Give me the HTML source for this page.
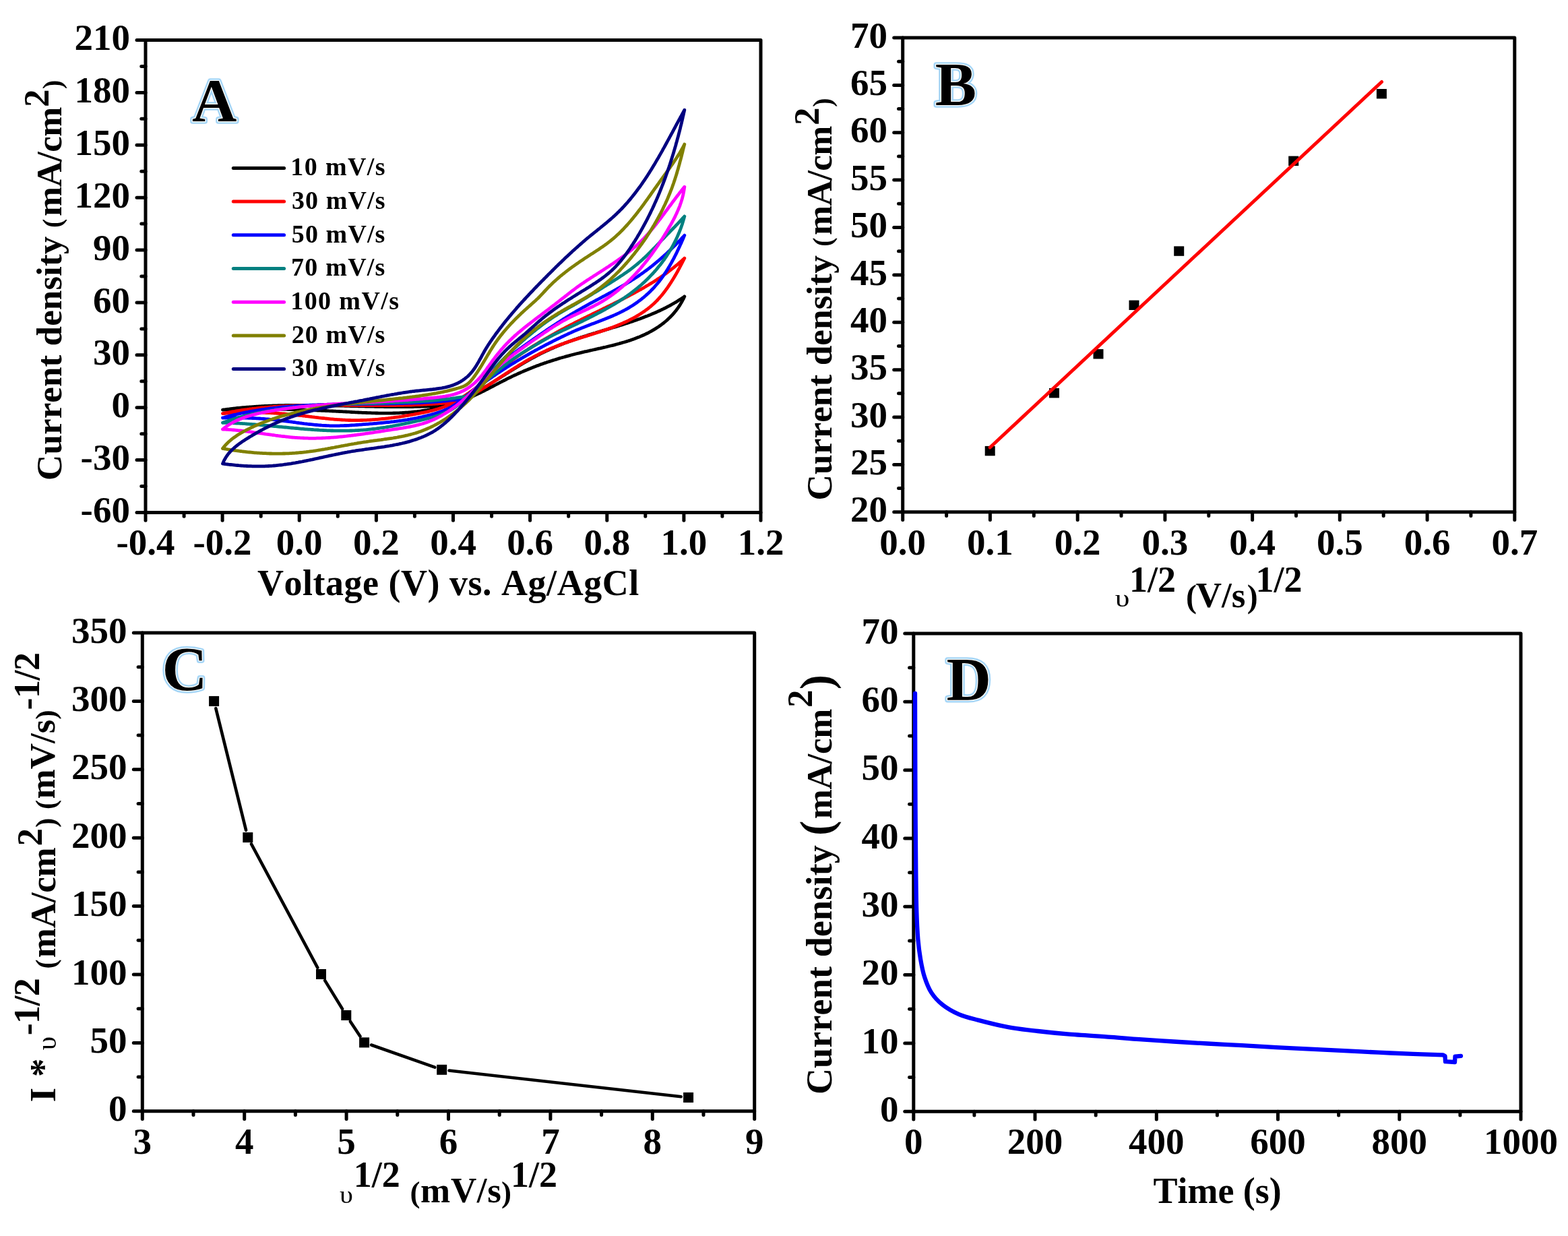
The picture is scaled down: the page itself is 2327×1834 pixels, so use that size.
<!DOCTYPE html>
<html><head><meta charset="utf-8"><title>Figure</title>
<style>html,body{margin:0;padding:0;background:#fff;}svg{display:block;}text{font-kerning:none;}</style></head>
<body><svg width="2327" height="1834" viewBox="0 0 2327 1834">
<rect width="2327" height="1834" fill="#fff"/>
<g stroke="#000" stroke-width="5" stroke-linecap="round" fill="none"><line x1="216.0" y1="760.5" x2="216.0" y2="772.2"/><line x1="273.1" y1="760.5" x2="273.1" y2="766.3"/><line x1="330.1" y1="760.5" x2="330.1" y2="772.2"/><line x1="387.2" y1="760.5" x2="387.2" y2="766.3"/><line x1="444.2" y1="760.5" x2="444.2" y2="772.2"/><line x1="501.3" y1="760.5" x2="501.3" y2="766.3"/><line x1="558.4" y1="760.5" x2="558.4" y2="772.2"/><line x1="615.4" y1="760.5" x2="615.4" y2="766.3"/><line x1="672.5" y1="760.5" x2="672.5" y2="772.2"/><line x1="729.6" y1="760.5" x2="729.6" y2="766.3"/><line x1="786.6" y1="760.5" x2="786.6" y2="772.2"/><line x1="843.7" y1="760.5" x2="843.7" y2="766.3"/><line x1="900.8" y1="760.5" x2="900.8" y2="772.2"/><line x1="957.8" y1="760.5" x2="957.8" y2="766.3"/><line x1="1014.9" y1="760.5" x2="1014.9" y2="772.2"/><line x1="1071.9" y1="760.5" x2="1071.9" y2="766.3"/><line x1="1129.0" y1="760.5" x2="1129.0" y2="772.2"/><line x1="203.0" y1="760.5" x2="216.0" y2="760.5"/><line x1="209.8" y1="721.6" x2="216.0" y2="721.6"/><line x1="203.0" y1="682.6" x2="216.0" y2="682.6"/><line x1="209.8" y1="643.7" x2="216.0" y2="643.7"/><line x1="203.0" y1="604.7" x2="216.0" y2="604.7"/><line x1="209.8" y1="565.8" x2="216.0" y2="565.8"/><line x1="203.0" y1="526.8" x2="216.0" y2="526.8"/><line x1="209.8" y1="487.9" x2="216.0" y2="487.9"/><line x1="203.0" y1="448.9" x2="216.0" y2="448.9"/><line x1="209.8" y1="410.0" x2="216.0" y2="410.0"/><line x1="203.0" y1="371.1" x2="216.0" y2="371.1"/><line x1="209.8" y1="332.1" x2="216.0" y2="332.1"/><line x1="203.0" y1="293.2" x2="216.0" y2="293.2"/><line x1="209.8" y1="254.2" x2="216.0" y2="254.2"/><line x1="203.0" y1="215.3" x2="216.0" y2="215.3"/><line x1="209.8" y1="176.3" x2="216.0" y2="176.3"/><line x1="203.0" y1="137.4" x2="216.0" y2="137.4"/><line x1="209.8" y1="98.4" x2="216.0" y2="98.4"/><line x1="203.0" y1="59.5" x2="216.0" y2="59.5"/><rect x="216.0" y="59.5" width="913.0" height="701.0" stroke-linejoin="round"/></g>
<g font-family="'Liberation Serif', serif" font-weight="bold" font-size="55" fill="#000"><text x="216.0" y="823.0" text-anchor="middle">-0.4</text><text x="330.1" y="823.0" text-anchor="middle">-0.2</text><text x="444.2" y="823.0" text-anchor="middle">0.0</text><text x="558.4" y="823.0" text-anchor="middle">0.2</text><text x="672.5" y="823.0" text-anchor="middle">0.4</text><text x="786.6" y="823.0" text-anchor="middle">0.6</text><text x="900.8" y="823.0" text-anchor="middle">0.8</text><text x="1014.9" y="823.0" text-anchor="middle">1.0</text><text x="1129.0" y="823.0" text-anchor="middle">1.2</text><text x="192.9" y="775.1" text-anchor="end">-60</text><text x="192.9" y="697.2" text-anchor="end">-30</text><text x="192.9" y="619.3" text-anchor="end">0</text><text x="192.9" y="541.4" text-anchor="end">30</text><text x="192.9" y="463.5" text-anchor="end">60</text><text x="192.9" y="385.7" text-anchor="end">90</text><text x="192.9" y="307.8" text-anchor="end">120</text><text x="192.9" y="229.9" text-anchor="end">150</text><text x="192.9" y="152.0" text-anchor="end">180</text><text x="192.9" y="74.1" text-anchor="end">210</text></g>
<g stroke="#000" stroke-width="5" stroke-linecap="round" fill="none"><line x1="1339.7" y1="759.8" x2="1339.7" y2="771.5"/><line x1="1404.6" y1="759.8" x2="1404.6" y2="765.6"/><line x1="1469.4" y1="759.8" x2="1469.4" y2="771.5"/><line x1="1534.3" y1="759.8" x2="1534.3" y2="765.6"/><line x1="1599.2" y1="759.8" x2="1599.2" y2="771.5"/><line x1="1664.0" y1="759.8" x2="1664.0" y2="765.6"/><line x1="1728.9" y1="759.8" x2="1728.9" y2="771.5"/><line x1="1793.8" y1="759.8" x2="1793.8" y2="765.6"/><line x1="1858.6" y1="759.8" x2="1858.6" y2="771.5"/><line x1="1923.5" y1="759.8" x2="1923.5" y2="765.6"/><line x1="1988.3" y1="759.8" x2="1988.3" y2="771.5"/><line x1="2053.2" y1="759.8" x2="2053.2" y2="765.6"/><line x1="2118.1" y1="759.8" x2="2118.1" y2="771.5"/><line x1="2182.9" y1="759.8" x2="2182.9" y2="765.6"/><line x1="2247.8" y1="759.8" x2="2247.8" y2="771.5"/><line x1="1326.7" y1="759.8" x2="1339.7" y2="759.8"/><line x1="1333.5" y1="724.6" x2="1339.7" y2="724.6"/><line x1="1326.7" y1="689.4" x2="1339.7" y2="689.4"/><line x1="1333.5" y1="654.2" x2="1339.7" y2="654.2"/><line x1="1326.7" y1="619.0" x2="1339.7" y2="619.0"/><line x1="1333.5" y1="583.8" x2="1339.7" y2="583.8"/><line x1="1326.7" y1="548.7" x2="1339.7" y2="548.7"/><line x1="1333.5" y1="513.5" x2="1339.7" y2="513.5"/><line x1="1326.7" y1="478.3" x2="1339.7" y2="478.3"/><line x1="1333.5" y1="443.1" x2="1339.7" y2="443.1"/><line x1="1326.7" y1="407.9" x2="1339.7" y2="407.9"/><line x1="1333.5" y1="372.7" x2="1339.7" y2="372.7"/><line x1="1326.7" y1="337.5" x2="1339.7" y2="337.5"/><line x1="1333.5" y1="302.3" x2="1339.7" y2="302.3"/><line x1="1326.7" y1="267.1" x2="1339.7" y2="267.1"/><line x1="1333.5" y1="232.0" x2="1339.7" y2="232.0"/><line x1="1326.7" y1="196.8" x2="1339.7" y2="196.8"/><line x1="1333.5" y1="161.6" x2="1339.7" y2="161.6"/><line x1="1326.7" y1="126.4" x2="1339.7" y2="126.4"/><line x1="1333.5" y1="91.2" x2="1339.7" y2="91.2"/><line x1="1326.7" y1="56.0" x2="1339.7" y2="56.0"/><rect x="1339.7" y="56.0" width="908.1" height="703.8" stroke-linejoin="round"/></g>
<g font-family="'Liberation Serif', serif" font-weight="bold" font-size="55" fill="#000"><text x="1339.7" y="823.0" text-anchor="middle">0.0</text><text x="1469.4" y="823.0" text-anchor="middle">0.1</text><text x="1599.2" y="823.0" text-anchor="middle">0.2</text><text x="1728.9" y="823.0" text-anchor="middle">0.3</text><text x="1858.6" y="823.0" text-anchor="middle">0.4</text><text x="1988.3" y="823.0" text-anchor="middle">0.5</text><text x="2118.1" y="823.0" text-anchor="middle">0.6</text><text x="2247.8" y="823.0" text-anchor="middle">0.7</text><text x="1316.9" y="774.4" text-anchor="end">20</text><text x="1316.9" y="704.0" text-anchor="end">25</text><text x="1316.9" y="633.6" text-anchor="end">30</text><text x="1316.9" y="563.3" text-anchor="end">35</text><text x="1316.9" y="492.9" text-anchor="end">40</text><text x="1316.9" y="422.5" text-anchor="end">45</text><text x="1316.9" y="352.1" text-anchor="end">50</text><text x="1316.9" y="281.7" text-anchor="end">55</text><text x="1316.9" y="211.4" text-anchor="end">60</text><text x="1316.9" y="141.0" text-anchor="end">65</text><text x="1316.9" y="70.6" text-anchor="end">70</text></g>
<g stroke="#000" stroke-width="5" stroke-linecap="round" fill="none"><line x1="211.3" y1="1648.8" x2="211.3" y2="1660.5"/><line x1="287.0" y1="1648.8" x2="287.0" y2="1654.6"/><line x1="362.7" y1="1648.8" x2="362.7" y2="1660.5"/><line x1="438.4" y1="1648.8" x2="438.4" y2="1654.6"/><line x1="514.1" y1="1648.8" x2="514.1" y2="1660.5"/><line x1="589.8" y1="1648.8" x2="589.8" y2="1654.6"/><line x1="665.5" y1="1648.8" x2="665.5" y2="1660.5"/><line x1="741.2" y1="1648.8" x2="741.2" y2="1654.6"/><line x1="816.9" y1="1648.8" x2="816.9" y2="1660.5"/><line x1="892.6" y1="1648.8" x2="892.6" y2="1654.6"/><line x1="968.3" y1="1648.8" x2="968.3" y2="1660.5"/><line x1="1044.0" y1="1648.8" x2="1044.0" y2="1654.6"/><line x1="1119.7" y1="1648.8" x2="1119.7" y2="1660.5"/><line x1="198.3" y1="1648.8" x2="211.3" y2="1648.8"/><line x1="205.1" y1="1598.1" x2="211.3" y2="1598.1"/><line x1="198.3" y1="1547.4" x2="211.3" y2="1547.4"/><line x1="205.1" y1="1496.7" x2="211.3" y2="1496.7"/><line x1="198.3" y1="1446.0" x2="211.3" y2="1446.0"/><line x1="205.1" y1="1395.3" x2="211.3" y2="1395.3"/><line x1="198.3" y1="1344.6" x2="211.3" y2="1344.6"/><line x1="205.1" y1="1293.9" x2="211.3" y2="1293.9"/><line x1="198.3" y1="1243.2" x2="211.3" y2="1243.2"/><line x1="205.1" y1="1192.5" x2="211.3" y2="1192.5"/><line x1="198.3" y1="1141.8" x2="211.3" y2="1141.8"/><line x1="205.1" y1="1091.1" x2="211.3" y2="1091.1"/><line x1="198.3" y1="1040.4" x2="211.3" y2="1040.4"/><line x1="205.1" y1="989.7" x2="211.3" y2="989.7"/><line x1="198.3" y1="939.0" x2="211.3" y2="939.0"/><rect x="211.3" y="939.0" width="908.4" height="709.8" stroke-linejoin="round"/></g>
<g font-family="'Liberation Serif', serif" font-weight="bold" font-size="55" fill="#000"><text x="211.3" y="1712.0" text-anchor="middle">3</text><text x="362.7" y="1712.0" text-anchor="middle">4</text><text x="514.1" y="1712.0" text-anchor="middle">5</text><text x="665.5" y="1712.0" text-anchor="middle">6</text><text x="816.9" y="1712.0" text-anchor="middle">7</text><text x="968.3" y="1712.0" text-anchor="middle">8</text><text x="1119.7" y="1712.0" text-anchor="middle">9</text><text x="188.6" y="1663.4" text-anchor="end">0</text><text x="188.6" y="1562.0" text-anchor="end">50</text><text x="188.6" y="1460.6" text-anchor="end">100</text><text x="188.6" y="1359.2" text-anchor="end">150</text><text x="188.6" y="1257.8" text-anchor="end">200</text><text x="188.6" y="1156.4" text-anchor="end">250</text><text x="188.6" y="1055.0" text-anchor="end">300</text><text x="188.6" y="953.6" text-anchor="end">350</text></g>
<g stroke="#000" stroke-width="5" stroke-linecap="round" fill="none"><line x1="1355.8" y1="1649.3" x2="1355.8" y2="1661.0"/><line x1="1445.9" y1="1649.3" x2="1445.9" y2="1655.1"/><line x1="1536.0" y1="1649.3" x2="1536.0" y2="1661.0"/><line x1="1626.2" y1="1649.3" x2="1626.2" y2="1655.1"/><line x1="1716.3" y1="1649.3" x2="1716.3" y2="1661.0"/><line x1="1806.4" y1="1649.3" x2="1806.4" y2="1655.1"/><line x1="1896.5" y1="1649.3" x2="1896.5" y2="1661.0"/><line x1="1986.6" y1="1649.3" x2="1986.6" y2="1655.1"/><line x1="2076.8" y1="1649.3" x2="2076.8" y2="1661.0"/><line x1="2166.9" y1="1649.3" x2="2166.9" y2="1655.1"/><line x1="2257.0" y1="1649.3" x2="2257.0" y2="1661.0"/><line x1="1342.8" y1="1649.3" x2="1355.8" y2="1649.3"/><line x1="1349.6" y1="1598.6" x2="1355.8" y2="1598.6"/><line x1="1342.8" y1="1548.0" x2="1355.8" y2="1548.0"/><line x1="1349.6" y1="1497.3" x2="1355.8" y2="1497.3"/><line x1="1342.8" y1="1446.6" x2="1355.8" y2="1446.6"/><line x1="1349.6" y1="1396.0" x2="1355.8" y2="1396.0"/><line x1="1342.8" y1="1345.3" x2="1355.8" y2="1345.3"/><line x1="1349.6" y1="1294.7" x2="1355.8" y2="1294.7"/><line x1="1342.8" y1="1244.0" x2="1355.8" y2="1244.0"/><line x1="1349.6" y1="1193.3" x2="1355.8" y2="1193.3"/><line x1="1342.8" y1="1142.7" x2="1355.8" y2="1142.7"/><line x1="1349.6" y1="1092.0" x2="1355.8" y2="1092.0"/><line x1="1342.8" y1="1041.3" x2="1355.8" y2="1041.3"/><line x1="1349.6" y1="990.7" x2="1355.8" y2="990.7"/><line x1="1342.8" y1="940.0" x2="1355.8" y2="940.0"/><rect x="1355.8" y="940.0" width="901.2" height="709.3" stroke-linejoin="round"/></g>
<g font-family="'Liberation Serif', serif" font-weight="bold" font-size="55" fill="#000"><text x="1355.8" y="1712.0" text-anchor="middle">0</text><text x="1536.0" y="1712.0" text-anchor="middle">200</text><text x="1716.3" y="1712.0" text-anchor="middle">400</text><text x="1896.5" y="1712.0" text-anchor="middle">600</text><text x="2076.8" y="1712.0" text-anchor="middle">800</text><text x="2257.0" y="1712.0" text-anchor="middle">1000</text><text x="1333.5" y="1663.9" text-anchor="end">0</text><text x="1333.5" y="1562.6" text-anchor="end">10</text><text x="1333.5" y="1461.2" text-anchor="end">20</text><text x="1333.5" y="1359.9" text-anchor="end">30</text><text x="1333.5" y="1258.6" text-anchor="end">40</text><text x="1333.5" y="1157.3" text-anchor="end">50</text><text x="1333.5" y="1055.9" text-anchor="end">60</text><text x="1333.5" y="954.6" text-anchor="end">70</text></g>
<g fill="none" stroke-width="4.8" stroke-linecap="round" stroke-linejoin="round"><path stroke="#000000" d="M330.5,608.2 L332.5,607.9 L334.5,607.7 L336.5,607.4 L338.5,607.1 L340.5,606.9 L342.5,606.6 L344.6,606.4 L346.6,606.2 L348.6,606.0 L350.6,605.7 L352.6,605.5 L354.6,605.3 L356.6,605.1 L358.6,604.9 L360.6,604.7 L362.7,604.6 L364.7,604.4 L366.7,604.2 L368.7,604.1 L370.7,603.9 L372.7,603.8 L374.7,603.6 L376.7,603.5 L378.8,603.3 L380.8,603.2 L382.8,603.1 L384.8,602.9 L386.8,602.8 L388.8,602.7 L390.8,602.6 L392.9,602.5 L394.9,602.4 L396.9,602.3 L398.9,602.2 L400.9,602.2 L402.9,602.1 L405.0,602.0 L407.0,601.9 L409.0,601.9 L411.0,601.8 L413.0,601.7 L415.1,601.7 L417.1,601.6 L419.1,601.6 L421.1,601.6 L423.1,601.5 L425.1,601.5 L427.2,601.5 L429.2,601.4 L431.2,601.4 L433.2,601.4 L435.2,601.4 L437.3,601.3 L439.3,601.3 L441.3,601.3 L443.3,601.3 L445.3,601.3 L447.4,601.3 L449.4,601.3 L451.4,601.3 L453.4,601.3 L455.4,601.3 L457.5,601.3 L459.5,601.4 L461.5,601.4 L463.5,601.4 L465.6,601.4 L467.6,601.4 L469.6,601.5 L471.6,601.5 L473.6,601.5 L475.7,601.5 L477.7,601.6 L479.7,601.6 L481.7,601.6 L483.7,601.7 L485.8,601.7 L487.8,601.7 L489.8,601.8 L491.8,601.8 L493.9,601.9 L495.9,601.9 L497.9,602.0 L499.9,602.0 L501.9,602.0 L504.0,602.1 L506.0,602.1 L508.0,602.2 L510.0,602.2 L512.1,602.3 L514.1,602.3 L516.1,602.4 L518.1,602.4 L520.2,602.5 L522.2,602.5 L524.2,602.6 L526.2,602.6 L528.2,602.7 L530.3,602.7 L532.3,602.8 L534.3,602.8 L536.3,602.8 L538.4,602.9 L540.4,602.9 L542.4,603.0 L544.4,603.0 L546.4,603.1 L548.5,603.1 L550.5,603.1 L552.5,603.2 L554.5,603.2 L556.6,603.3 L558.6,603.3 L560.6,603.3 L562.6,603.4 L564.6,603.4 L566.7,603.4 L568.7,603.4 L570.7,603.5 L572.7,603.5 L574.7,603.5 L576.8,603.5 L578.8,603.6 L580.8,603.6 L582.8,603.6 L584.8,603.6 L586.9,603.6 L588.9,603.6 L590.9,603.6 L592.9,603.6 L594.9,603.6 L597.0,603.6 L599.0,603.6 L601.0,603.6 L603.0,603.6 L605.0,603.6 L607.1,603.5 L609.1,603.5 L611.1,603.5 L613.1,603.5 L615.1,603.4 L617.2,603.4 L619.2,603.3 L621.2,603.3 L623.2,603.3 L625.2,603.2 L627.2,603.2 L629.3,603.1 L631.3,603.0 L633.3,603.0 L635.3,602.9 L637.3,602.8 L639.3,602.7 L641.3,602.6 L643.4,602.6 L645.4,602.5 L647.4,602.4 L649.4,602.3 L651.4,602.2 L653.4,602.0 L655.4,601.9 L657.5,601.8 L659.5,601.7 L661.5,601.5 L663.5,601.4 M330.5,608.2 L332.5,608.1 L334.5,608.0 L336.5,607.9 L338.6,607.9 L340.6,607.8 L342.6,607.7 L344.6,607.7 L346.6,607.6 L348.6,607.5 L350.7,607.5 L352.7,607.4 L354.7,607.4 L356.7,607.3 L358.7,607.3 L360.7,607.2 L362.7,607.2 L364.8,607.2 L366.8,607.1 L368.8,607.1 L370.8,607.1 L372.8,607.1 L374.8,607.0 L376.8,607.0 L378.8,607.0 L380.9,607.0 L382.9,607.0 L384.9,607.0 L386.9,607.0 L388.9,607.0 L390.9,607.0 L392.9,607.0 L395.0,607.0 L397.0,607.0 L399.0,607.0 L401.0,607.1 L403.0,607.1 L405.0,607.1 L407.0,607.1 L409.0,607.1 L411.0,607.2 L413.1,607.2 L415.1,607.2 L417.1,607.3 L419.1,607.3 L421.1,607.4 L423.1,607.4 L425.1,607.4 L427.1,607.5 L429.2,607.5 L431.2,607.6 L433.2,607.6 L435.2,607.7 L437.2,607.8 L439.2,607.8 L441.2,607.9 L443.2,607.9 L445.2,608.0 L447.3,608.1 L449.3,608.1 L451.3,608.2 L453.3,608.3 L455.3,608.4 L457.3,608.4 L459.3,608.5 L461.3,608.6 L463.3,608.7 L465.4,608.7 L467.4,608.8 L469.4,608.9 L471.4,609.0 L473.4,609.1 L475.4,609.2 L477.4,609.3 L479.4,609.3 L481.5,609.4 L483.5,609.5 L485.5,609.6 L487.5,609.7 L489.5,609.8 L491.5,609.9 L493.5,610.0 L495.5,610.1 L497.6,610.2 L499.6,610.3 L501.6,610.4 L503.6,610.5 L505.6,610.6 L507.6,610.7 L509.6,610.8 L511.6,610.9 L513.7,611.0 L515.7,611.1 L517.7,611.2 L519.7,611.4 L521.7,611.5 L523.7,611.6 L525.7,611.7 L527.8,611.8 L529.8,611.9 L531.8,612.0 L533.8,612.1 L535.8,612.2 L537.8,612.3 L539.8,612.3 L541.8,612.4 L543.9,612.5 L545.9,612.6 L547.9,612.7 L549.9,612.7 L551.9,612.8 L553.9,612.9 L555.9,612.9 L557.9,613.0 L559.9,613.0 L562.0,613.1 L564.0,613.1 L566.0,613.1 L568.0,613.1 L570.0,613.1 L572.0,613.2 L574.0,613.2 L576.0,613.1 L578.0,613.1 L580.0,613.1 L582.0,613.1 L584.0,613.0 L586.0,613.0 L588.0,612.9 L590.0,612.9 L592.0,612.8 L594.0,612.7 L596.0,612.6 L598.0,612.5 L600.0,612.4 L602.0,612.2 L604.0,612.1 L606.0,612.0 L608.0,611.8 L610.0,611.6 L612.0,611.4 L614.0,611.2 L616.0,611.0 L618.0,610.8 L620.0,610.5 L622.0,610.3 L624.0,610.0 L626.0,609.7 L627.9,609.4 L629.9,609.1 L631.9,608.8 L633.9,608.5 L635.9,608.1 L637.9,607.8 L639.8,607.4 L641.8,607.0 L643.8,606.5 L645.8,606.1 L647.7,605.7 L649.7,605.2 L651.7,604.7 L653.7,604.2 L655.6,603.7 L657.6,603.1 L659.6,602.6 L661.5,602.0 L663.5,601.4 M663.5,601.4 L665.4,600.8 L667.4,600.1 L669.3,599.5 L671.2,598.8 L673.1,598.1 L675.0,597.3 L676.8,596.6 L678.7,595.8 L680.6,595.1 L682.4,594.3 L684.3,593.4 L686.1,592.6 L687.9,591.8 L689.7,590.9 L691.5,590.0 L693.3,589.1 L695.1,588.2 L696.9,587.3 L698.7,586.4 L700.5,585.4 L702.3,584.5 L704.0,583.5 L705.8,582.6 L707.5,581.6 L709.3,580.6 L711.0,579.6 L712.8,578.6 L714.5,577.5 L716.2,576.5 L718.0,575.5 L719.7,574.4 L721.4,573.4 L723.1,572.3 L724.8,571.3 L726.6,570.2 L728.3,569.1 L730.0,568.1 L731.7,567.0 L733.4,565.9 L735.1,564.8 L736.8,563.7 L738.5,562.7 L740.2,561.6 L741.9,560.5 L743.6,559.4 L745.3,558.3 L747.1,557.2 L748.8,556.2 L750.5,555.1 L752.2,554.0 L753.9,552.9 L755.6,551.8 L757.3,550.8 L759.0,549.7 L760.7,548.6 L762.5,547.6 L764.2,546.5 L765.9,545.4 L767.6,544.4 L769.3,543.3 L771.1,542.3 L772.8,541.3 L774.5,540.2 L776.3,539.2 L778.0,538.2 L779.7,537.2 L781.5,536.2 L783.2,535.2 L785.0,534.2 L786.7,533.2 L788.5,532.2 L790.3,531.2 L792.0,530.3 L793.8,529.3 L795.6,528.4 L797.4,527.4 L799.1,526.5 L800.9,525.6 L802.7,524.7 L804.5,523.8 L806.3,522.9 L808.1,522.0 L809.9,521.2 L811.8,520.3 L813.6,519.5 L815.4,518.6 L817.2,517.8 L819.1,517.0 L820.9,516.2 L822.8,515.4 L824.6,514.6 L826.5,513.8 L828.3,513.1 L830.2,512.3 L832.1,511.5 L833.9,510.8 L835.8,510.1 L837.7,509.3 L839.6,508.6 L841.5,507.9 L843.3,507.2 L845.2,506.5 L847.1,505.9 L849.0,505.2 L850.9,504.5 L852.8,503.8 L854.8,503.2 L856.7,502.5 L858.6,501.9 L860.5,501.3 L862.4,500.6 L864.3,500.0 L866.3,499.4 L868.2,498.8 L870.1,498.2 L872.0,497.5 L874.0,496.9 L875.9,496.3 L877.8,495.7 L879.8,495.1 L881.7,494.5 L883.6,494.0 L885.6,493.4 L887.5,492.8 L889.5,492.2 L891.4,491.6 L893.3,491.0 L895.3,490.4 L897.2,489.9 L899.2,489.3 L901.1,488.7 L903.0,488.1 L905.0,487.5 L906.9,486.9 L908.9,486.3 L910.8,485.8 L912.7,485.2 L914.7,484.6 L916.6,484.0 L918.5,483.4 L920.5,482.8 L922.4,482.2 L924.3,481.6 L926.3,480.9 L928.2,480.3 L930.1,479.7 L932.0,479.1 L933.9,478.4 L935.9,477.8 L937.8,477.2 L939.7,476.5 L941.6,475.8 L943.5,475.2 L945.4,474.5 L947.3,473.8 L949.2,473.2 L951.1,472.5 L953.0,471.8 L954.9,471.1 L956.7,470.3 L958.6,469.6 L960.5,468.9 L962.4,468.1 L964.2,467.4 L966.1,466.6 L967.9,465.8 L969.8,465.1 L971.6,464.3 L973.5,463.5 L975.3,462.6 L977.1,461.8 L979.0,461.0 L980.8,460.1 L982.6,459.2 L984.4,458.4 L986.2,457.5 L988.0,456.6 L989.8,455.6 L991.6,454.7 L993.3,453.8 L995.1,452.8 L996.9,451.8 L998.6,450.8 L1000.4,449.8 L1002.1,448.8 L1003.9,447.8 L1005.6,446.7 L1007.3,445.6 L1009.0,444.5 L1010.7,443.4 L1012.4,442.3 L1014.1,441.2 L1015.8,440.0 M663.5,601.4 L665.5,600.9 L667.4,600.4 L669.3,599.9 L671.3,599.4 L673.2,598.8 L675.1,598.2 L677.0,597.6 L678.9,597.0 L680.8,596.3 L682.7,595.7 L684.6,595.0 L686.5,594.3 L688.3,593.6 L690.2,592.8 L692.1,592.1 L693.9,591.3 L695.8,590.5 L697.6,589.7 L699.5,588.9 L701.3,588.1 L703.1,587.3 L705.0,586.4 L706.8,585.6 L708.6,584.7 L710.4,583.8 L712.2,583.0 L714.0,582.1 L715.9,581.2 L717.7,580.3 L719.5,579.3 L721.3,578.4 L723.1,577.5 L724.9,576.6 L726.7,575.7 L728.5,574.7 L730.3,573.8 L732.1,572.8 L733.9,571.9 L735.6,571.0 L737.4,570.0 L739.2,569.1 L741.0,568.2 L742.8,567.2 L744.6,566.3 L746.4,565.4 L748.2,564.5 L750.0,563.6 L751.8,562.6 L753.6,561.7 L755.4,560.8 L757.2,560.0 L759.0,559.1 L760.8,558.2 L762.6,557.3 L764.4,556.5 L766.3,555.7 L768.1,554.8 L769.9,554.0 L771.7,553.2 L773.5,552.4 L775.4,551.6 L777.2,550.8 L779.0,550.0 L780.9,549.2 L782.7,548.5 L784.5,547.7 L786.4,547.0 L788.2,546.2 L790.1,545.5 L791.9,544.8 L793.8,544.1 L795.7,543.3 L797.5,542.6 L799.4,542.0 L801.2,541.3 L803.1,540.6 L805.0,539.9 L806.9,539.3 L808.7,538.6 L810.6,538.0 L812.5,537.3 L814.4,536.7 L816.3,536.1 L818.2,535.5 L820.1,534.9 L822.0,534.3 L823.9,533.7 L825.8,533.1 L827.7,532.5 L829.6,531.9 L831.6,531.3 L833.5,530.8 L835.4,530.2 L837.3,529.7 L839.3,529.1 L841.2,528.6 L843.2,528.1 L845.1,527.6 L847.0,527.0 L849.0,526.5 L851.0,526.0 L852.9,525.5 L854.9,525.0 L856.8,524.5 L858.8,524.1 L860.8,523.6 L862.8,523.1 L864.8,522.6 L866.7,522.2 L868.7,521.7 L870.7,521.3 L872.7,520.8 L874.7,520.4 L876.7,519.9 L878.7,519.5 L880.7,519.0 L882.7,518.6 L884.7,518.1 L886.7,517.7 L888.7,517.2 L890.7,516.8 L892.7,516.3 L894.7,515.9 L896.7,515.4 L898.7,515.0 L900.7,514.5 L902.6,514.0 L904.6,513.5 L906.6,513.0 L908.6,512.6 L910.6,512.1 L912.5,511.6 L914.5,511.0 L916.5,510.5 L918.4,510.0 L920.4,509.4 L922.3,508.9 L924.3,508.3 L926.2,507.8 L928.1,507.2 L930.0,506.6 L932.0,506.0 L933.9,505.4 L935.8,504.7 L937.6,504.1 L939.5,503.4 L941.4,502.7 L943.3,502.0 L945.1,501.3 L947.0,500.6 L948.8,499.9 L950.6,499.1 L952.5,498.3 L954.3,497.5 L956.1,496.7 L957.8,495.9 L959.6,495.0 L961.4,494.2 L963.1,493.3 L964.8,492.3 L966.6,491.4 L968.3,490.4 L970.0,489.4 L971.7,488.4 L973.3,487.4 L975.0,486.3 L976.6,485.3 L978.2,484.2 L979.8,483.0 L981.4,481.9 L983.0,480.7 L984.6,479.5 L986.1,478.2 L987.6,477.0 L989.1,475.7 L990.6,474.4 L992.0,473.0 L993.5,471.6 L994.9,470.2 L996.3,468.8 L997.7,467.4 L999.0,465.9 L1000.3,464.4 L1001.6,462.8 L1002.9,461.2 L1004.1,459.6 L1005.3,458.0 L1006.5,456.4 L1007.7,454.7 L1008.8,452.9 L1009.9,451.2 L1010.9,449.4 L1012.0,447.6 L1013.0,445.7 L1014.0,443.9 L1014.9,441.9 L1015.8,440.0"/><path stroke="#ff0000" d="M330.5,613.6 L332.5,613.2 L334.5,612.8 L336.5,612.4 L338.5,612.0 L340.5,611.7 L342.5,611.3 L344.4,610.9 L346.4,610.6 L348.4,610.3 L350.4,609.9 L352.4,609.6 L354.4,609.3 L356.4,609.0 L358.4,608.7 L360.4,608.4 L362.4,608.1 L364.4,607.8 L366.4,607.6 L368.4,607.3 L370.4,607.0 L372.4,606.8 L374.4,606.5 L376.4,606.3 L378.4,606.1 L380.4,605.9 L382.4,605.6 L384.5,605.4 L386.5,605.2 L388.5,605.0 L390.5,604.8 L392.5,604.7 L394.5,604.5 L396.5,604.3 L398.5,604.1 L400.5,604.0 L402.5,603.8 L404.5,603.7 L406.5,603.5 L408.6,603.4 L410.6,603.3 L412.6,603.1 L414.6,603.0 L416.6,602.9 L418.6,602.8 L420.6,602.7 L422.6,602.6 L424.7,602.5 L426.7,602.4 L428.7,602.3 L430.7,602.2 L432.7,602.1 L434.7,602.0 L436.7,602.0 L438.8,601.9 L440.8,601.8 L442.8,601.8 L444.8,601.7 L446.8,601.7 L448.8,601.6 L450.9,601.6 L452.9,601.5 L454.9,601.5 L456.9,601.4 L458.9,601.4 L461.0,601.4 L463.0,601.3 L465.0,601.3 L467.0,601.3 L469.0,601.3 L471.1,601.2 L473.1,601.2 L475.1,601.2 L477.1,601.2 L479.1,601.2 L481.2,601.2 L483.2,601.2 L485.2,601.2 L487.2,601.2 L489.2,601.2 L491.3,601.2 L493.3,601.2 L495.3,601.2 L497.3,601.2 L499.4,601.2 L501.4,601.2 L503.4,601.2 L505.4,601.2 L507.4,601.2 L509.5,601.3 L511.5,601.3 L513.5,601.3 L515.5,601.3 L517.6,601.3 L519.6,601.3 L521.6,601.4 L523.6,601.4 L525.7,601.4 L527.7,601.4 L529.7,601.4 L531.7,601.4 L533.7,601.4 L535.8,601.5 L537.8,601.5 L539.8,601.5 L541.8,601.5 L543.9,601.5 L545.9,601.5 L547.9,601.5 L549.9,601.6 L552.0,601.6 L554.0,601.6 L556.0,601.6 L558.0,601.6 L560.0,601.6 L562.1,601.6 L564.1,601.6 L566.1,601.6 L568.1,601.6 L570.2,601.6 L572.2,601.6 L574.2,601.6 L576.2,601.6 L578.2,601.5 L580.3,601.5 L582.3,601.5 L584.3,601.5 L586.3,601.5 L588.4,601.4 L590.4,601.4 L592.4,601.4 L594.4,601.3 L596.4,601.3 L598.5,601.3 L600.5,601.2 L602.5,601.2 L604.5,601.1 L606.5,601.1 L608.6,601.0 L610.6,601.0 L612.6,600.9 L614.6,600.8 L616.6,600.7 L618.6,600.7 L620.7,600.6 L622.7,600.5 L624.7,600.4 L626.7,600.3 L628.7,600.2 L630.7,600.1 L632.8,600.0 L634.8,599.9 L636.8,599.8 L638.8,599.7 L640.8,599.5 L642.8,599.4 L644.8,599.3 L646.9,599.1 L648.9,599.0 L650.9,598.8 L652.9,598.7 L654.9,598.5 L656.9,598.3 L658.9,598.1 L660.9,598.0 L662.9,597.8 L665.0,597.6 L667.0,597.4 L669.0,597.2 L671.0,596.9 L673.0,596.7 L675.0,596.5 M330.5,613.6 L332.5,613.5 L334.5,613.4 L336.5,613.2 L338.6,613.1 L340.6,613.0 L342.6,612.9 L344.6,612.8 L346.6,612.8 L348.6,612.7 L350.7,612.6 L352.7,612.5 L354.7,612.5 L356.7,612.4 L358.7,612.4 L360.7,612.3 L362.8,612.3 L364.8,612.2 L366.8,612.2 L368.8,612.2 L370.8,612.2 L372.9,612.2 L374.9,612.2 L376.9,612.2 L378.9,612.2 L380.9,612.2 L382.9,612.2 L385.0,612.2 L387.0,612.3 L389.0,612.3 L391.0,612.4 L393.0,612.4 L395.0,612.5 L397.1,612.6 L399.1,612.7 L401.1,612.7 L403.1,612.8 L405.1,612.9 L407.1,613.1 L409.1,613.2 L411.1,613.3 L413.2,613.4 L415.2,613.6 L417.2,613.7 L419.2,613.9 L421.2,614.0 L423.2,614.2 L425.2,614.4 L427.2,614.6 L429.2,614.8 L431.2,615.0 L433.2,615.2 L435.2,615.4 L437.2,615.6 L439.2,615.8 L441.3,616.1 L443.3,616.3 L445.3,616.5 L447.3,616.7 L449.3,617.0 L451.3,617.2 L453.3,617.5 L455.3,617.7 L457.3,617.9 L459.3,618.2 L461.3,618.4 L463.3,618.7 L465.3,618.9 L467.3,619.2 L469.3,619.4 L471.3,619.6 L473.3,619.9 L475.3,620.1 L477.3,620.3 L479.3,620.5 L481.3,620.7 L483.3,621.0 L485.3,621.2 L487.3,621.4 L489.3,621.6 L491.3,621.8 L493.3,621.9 L495.3,622.1 L497.3,622.3 L499.3,622.4 L501.3,622.6 L503.3,622.7 L505.3,622.9 L507.3,623.0 L509.3,623.1 L511.3,623.2 L513.4,623.3 L515.4,623.4 L517.4,623.5 L519.4,623.5 L521.4,623.6 L523.4,623.6 L525.4,623.6 L527.4,623.6 L529.5,623.6 L531.5,623.6 L533.5,623.6 L535.5,623.5 L537.5,623.5 L539.5,623.4 L541.5,623.4 L543.6,623.3 L545.6,623.2 L547.6,623.1 L549.6,623.0 L551.6,622.9 L553.6,622.7 L555.7,622.6 L557.7,622.4 L559.7,622.3 L561.7,622.1 L563.7,621.9 L565.7,621.7 L567.7,621.5 L569.8,621.3 L571.8,621.1 L573.8,620.9 L575.8,620.7 L577.8,620.4 L579.8,620.2 L581.8,619.9 L583.8,619.7 L585.8,619.4 L587.9,619.1 L589.9,618.8 L591.9,618.6 L593.9,618.3 L595.9,618.0 L597.9,617.6 L599.9,617.3 L601.9,617.0 L603.9,616.7 L605.9,616.3 L607.9,616.0 L609.8,615.7 L611.8,615.3 L613.8,615.0 L615.8,614.6 L617.8,614.2 L619.8,613.9 L621.8,613.5 L623.7,613.1 L625.7,612.7 L627.7,612.3 L629.7,611.9 L631.6,611.5 L633.6,611.1 L635.6,610.6 L637.5,610.2 L639.5,609.7 L641.4,609.2 L643.3,608.7 L645.3,608.2 L647.2,607.6 L649.1,607.1 L651.0,606.5 L652.9,605.9 L654.8,605.3 L656.7,604.6 L658.6,603.9 L660.5,603.2 L662.3,602.5 L664.2,601.8 L666.0,601.0 L667.8,600.1 L669.6,599.3 L671.4,598.4 L673.2,597.5 L675.0,596.5 M675.0,596.5 L676.7,595.5 L678.5,594.4 L680.2,593.4 L681.9,592.3 L683.6,591.2 L685.3,590.1 L687.0,589.0 L688.6,587.9 L690.3,586.8 L692.0,585.7 L693.6,584.5 L695.3,583.4 L697.0,582.2 L698.6,581.1 L700.2,579.9 L701.9,578.7 L703.5,577.6 L705.1,576.4 L706.7,575.2 L708.4,574.0 L710.0,572.8 L711.6,571.6 L713.2,570.4 L714.8,569.1 L716.4,567.9 L718.0,566.7 L719.6,565.5 L721.2,564.2 L722.8,563.0 L724.4,561.8 L726.0,560.5 L727.6,559.3 L729.2,558.1 L730.8,556.8 L732.4,555.6 L734.0,554.3 L735.5,553.1 L737.1,551.9 L738.7,550.6 L740.3,549.4 L741.9,548.2 L743.5,546.9 L745.1,545.7 L746.7,544.5 L748.3,543.3 L749.9,542.0 L751.6,540.8 L753.2,539.6 L754.8,538.4 L756.4,537.2 L758.0,536.0 L759.7,534.8 L761.3,533.6 L762.9,532.5 L764.6,531.3 L766.2,530.1 L767.9,529.0 L769.5,527.8 L771.2,526.7 L772.9,525.6 L774.5,524.4 L776.2,523.3 L777.9,522.2 L779.6,521.1 L781.3,520.0 L783.0,518.9 L784.6,517.8 L786.3,516.7 L788.0,515.6 L789.7,514.5 L791.5,513.4 L793.2,512.4 L794.9,511.3 L796.6,510.2 L798.3,509.2 L800.1,508.1 L801.8,507.1 L803.5,506.1 L805.2,505.0 L807.0,504.0 L808.7,503.0 L810.5,502.0 L812.2,501.0 L814.0,500.0 L815.7,499.0 L817.5,498.0 L819.2,497.0 L821.0,496.0 L822.8,495.0 L824.5,494.0 L826.3,493.0 L828.1,492.1 L829.8,491.1 L831.6,490.1 L833.4,489.2 L835.2,488.2 L837.0,487.3 L838.8,486.3 L840.5,485.4 L842.3,484.5 L844.1,483.5 L845.9,482.6 L847.7,481.7 L849.5,480.8 L851.3,479.9 L853.1,478.9 L854.9,478.0 L856.7,477.1 L858.5,476.2 L860.3,475.3 L862.1,474.4 L863.9,473.5 L865.7,472.6 L867.5,471.7 L869.4,470.8 L871.2,469.9 L873.0,469.0 L874.8,468.2 L876.6,467.3 L878.4,466.4 L880.2,465.5 L882.0,464.6 L883.9,463.7 L885.7,462.8 L887.5,461.9 L889.3,461.1 L891.1,460.2 L892.9,459.3 L894.7,458.4 L896.5,457.5 L898.4,456.6 L900.2,455.7 L902.0,454.8 L903.8,454.0 L905.6,453.1 L907.4,452.2 L909.2,451.3 L911.0,450.4 L912.8,449.5 L914.6,448.6 L916.4,447.7 L918.2,446.8 L920.0,445.8 L921.8,444.9 L923.6,444.0 L925.4,443.1 L927.2,442.2 L929.0,441.2 L930.8,440.3 L932.6,439.4 L934.4,438.4 L936.1,437.5 L937.9,436.5 L939.7,435.6 L941.5,434.6 L943.2,433.7 L945.0,432.7 L946.8,431.7 L948.5,430.7 L950.3,429.8 L952.1,428.8 L953.8,427.8 L955.6,426.8 L957.3,425.8 L959.0,424.7 L960.8,423.7 L962.5,422.7 L964.2,421.6 L965.9,420.6 L967.7,419.5 L969.4,418.5 L971.1,417.4 L972.8,416.3 L974.5,415.2 L976.1,414.1 L977.8,413.0 L979.5,411.9 L981.1,410.8 L982.8,409.6 L984.5,408.5 L986.1,407.3 L987.7,406.2 L989.4,405.0 L991.0,403.8 L992.6,402.6 L994.2,401.4 L995.8,400.1 L997.4,398.9 L999.0,397.7 L1000.5,396.4 L1002.1,395.1 L1003.6,393.8 L1005.2,392.6 L1006.7,391.3 L1008.3,389.9 L1009.8,388.6 L1011.3,387.3 L1012.8,385.9 L1014.3,384.6 L1015.8,383.2 M675.0,596.5 L676.9,595.8 L678.8,595.2 L680.7,594.5 L682.6,593.7 L684.5,593.0 L686.3,592.2 L688.2,591.4 L690.0,590.6 L691.9,589.8 L693.7,589.0 L695.5,588.1 L697.3,587.2 L699.1,586.3 L700.9,585.4 L702.6,584.5 L704.4,583.5 L706.2,582.6 L707.9,581.6 L709.7,580.6 L711.4,579.6 L713.2,578.6 L714.9,577.6 L716.6,576.5 L718.4,575.5 L720.1,574.4 L721.8,573.4 L723.5,572.3 L725.2,571.2 L726.9,570.1 L728.6,569.1 L730.3,568.0 L732.0,566.9 L733.7,565.7 L735.4,564.6 L737.1,563.5 L738.8,562.4 L740.4,561.3 L742.1,560.2 L743.8,559.1 L745.5,557.9 L747.2,556.8 L748.9,555.7 L750.6,554.6 L752.2,553.5 L753.9,552.4 L755.6,551.3 L757.3,550.2 L759.0,549.1 L760.7,548.0 L762.4,546.9 L764.1,545.8 L765.9,544.7 L767.6,543.7 L769.3,542.6 L771.0,541.6 L772.7,540.5 L774.5,539.5 L776.2,538.5 L777.9,537.4 L779.7,536.4 L781.4,535.4 L783.2,534.4 L784.9,533.4 L786.7,532.4 L788.4,531.5 L790.2,530.5 L791.9,529.6 L793.7,528.6 L795.5,527.7 L797.3,526.8 L799.1,525.8 L800.8,524.9 L802.6,524.0 L804.4,523.2 L806.2,522.3 L808.1,521.4 L809.9,520.6 L811.7,519.7 L813.5,518.9 L815.3,518.1 L817.2,517.3 L819.0,516.5 L820.8,515.7 L822.7,515.0 L824.5,514.2 L826.4,513.5 L828.3,512.8 L830.1,512.0 L832.0,511.3 L833.9,510.6 L835.8,510.0 L837.6,509.3 L839.5,508.6 L841.4,507.9 L843.3,507.3 L845.2,506.6 L847.1,506.0 L849.0,505.4 L851.0,504.7 L852.9,504.1 L854.8,503.5 L856.7,502.9 L858.7,502.3 L860.6,501.6 L862.5,501.0 L864.5,500.4 L866.4,499.8 L868.4,499.2 L870.3,498.6 L872.2,498.0 L874.2,497.4 L876.1,496.8 L878.1,496.2 L880.0,495.5 L882.0,494.9 L883.9,494.3 L885.9,493.7 L887.8,493.0 L889.8,492.4 L891.7,491.8 L893.6,491.1 L895.6,490.5 L897.5,489.8 L899.4,489.1 L901.4,488.5 L903.3,487.8 L905.2,487.1 L907.1,486.4 L909.0,485.7 L910.9,485.0 L912.8,484.2 L914.7,483.5 L916.5,482.8 L918.4,482.0 L920.3,481.2 L922.1,480.4 L924.0,479.6 L925.8,478.8 L927.6,478.0 L929.4,477.2 L931.3,476.3 L933.1,475.4 L934.8,474.5 L936.6,473.6 L938.4,472.7 L940.1,471.8 L941.9,470.8 L943.6,469.9 L945.3,468.9 L947.0,467.9 L948.7,466.8 L950.4,465.8 L952.0,464.7 L953.7,463.6 L955.3,462.5 L956.9,461.4 L958.5,460.2 L960.1,459.1 L961.7,457.9 L963.2,456.6 L964.8,455.4 L966.3,454.1 L967.8,452.8 L969.3,451.5 L970.7,450.2 L972.2,448.8 L973.6,447.4 L975.0,446.0 L976.4,444.5 L977.7,443.0 L979.1,441.5 L980.4,440.0 L981.7,438.5 L983.0,436.9 L984.3,435.3 L985.5,433.7 L986.8,432.1 L988.0,430.4 L989.2,428.8 L990.4,427.1 L991.6,425.4 L992.7,423.7 L993.9,422.0 L995.0,420.3 L996.1,418.6 L997.2,416.8 L998.3,415.1 L999.4,413.3 L1000.5,411.5 L1001.5,409.8 L1002.5,408.0 L1003.6,406.2 L1004.6,404.4 L1005.6,402.7 L1006.5,400.9 L1007.5,399.1 L1008.5,397.3 L1009.4,395.5 L1010.4,393.7 L1011.3,392.0 L1012.2,390.2 L1013.1,388.4 L1014.0,386.7 L1014.9,384.9 L1015.8,383.2"/><path stroke="#0000ff" d="M330.5,620.0 L332.5,619.5 L334.4,618.9 L336.4,618.4 L338.3,617.9 L340.3,617.4 L342.3,616.9 L344.2,616.4 L346.2,615.9 L348.2,615.4 L350.1,615.0 L352.1,614.5 L354.1,614.1 L356.1,613.7 L358.0,613.2 L360.0,612.8 L362.0,612.4 L364.0,612.0 L365.9,611.6 L367.9,611.3 L369.9,610.9 L371.9,610.5 L373.9,610.2 L375.9,609.8 L377.8,609.5 L379.8,609.2 L381.8,608.8 L383.8,608.5 L385.8,608.2 L387.8,607.9 L389.8,607.6 L391.8,607.3 L393.8,607.0 L395.8,606.8 L397.8,606.5 L399.8,606.2 L401.7,606.0 L403.7,605.8 L405.7,605.5 L407.7,605.3 L409.7,605.1 L411.7,604.8 L413.7,604.6 L415.7,604.4 L417.8,604.2 L419.8,604.0 L421.8,603.8 L423.8,603.6 L425.8,603.5 L427.8,603.3 L429.8,603.1 L431.8,603.0 L433.8,602.8 L435.8,602.7 L437.8,602.5 L439.8,602.4 L441.8,602.2 L443.9,602.1 L445.9,602.0 L447.9,601.8 L449.9,601.7 L451.9,601.6 L453.9,601.5 L455.9,601.4 L458.0,601.3 L460.0,601.2 L462.0,601.1 L464.0,601.0 L466.0,600.9 L468.0,600.8 L470.1,600.8 L472.1,600.7 L474.1,600.6 L476.1,600.5 L478.1,600.5 L480.2,600.4 L482.2,600.3 L484.2,600.3 L486.2,600.2 L488.3,600.2 L490.3,600.1 L492.3,600.1 L494.3,600.0 L496.3,600.0 L498.4,599.9 L500.4,599.9 L502.4,599.9 L504.4,599.8 L506.5,599.8 L508.5,599.8 L510.5,599.7 L512.5,599.7 L514.6,599.7 L516.6,599.7 L518.6,599.6 L520.6,599.6 L522.7,599.6 L524.7,599.6 L526.7,599.5 L528.8,599.5 L530.8,599.5 L532.8,599.5 L534.8,599.5 L536.9,599.4 L538.9,599.4 L540.9,599.4 L542.9,599.4 L545.0,599.4 L547.0,599.3 L549.0,599.3 L551.0,599.3 L553.1,599.3 L555.1,599.3 L557.1,599.2 L559.1,599.2 L561.2,599.2 L563.2,599.2 L565.2,599.1 L567.2,599.1 L569.3,599.1 L571.3,599.0 L573.3,599.0 L575.3,599.0 L577.4,599.0 L579.4,598.9 L581.4,598.9 L583.4,598.8 L585.5,598.8 L587.5,598.8 L589.5,598.7 L591.5,598.7 L593.6,598.6 L595.6,598.6 L597.6,598.5 L599.6,598.4 L601.6,598.4 L603.7,598.3 L605.7,598.2 L607.7,598.2 L609.7,598.1 L611.7,598.0 L613.8,597.9 L615.8,597.9 L617.8,597.8 L619.8,597.7 L621.8,597.6 L623.8,597.5 L625.9,597.4 L627.9,597.3 L629.9,597.2 L631.9,597.1 L633.9,596.9 L635.9,596.8 L637.9,596.7 L639.9,596.6 L642.0,596.4 L644.0,596.3 L646.0,596.1 L648.0,596.0 L650.0,595.8 L652.0,595.7 L654.0,595.5 L656.0,595.3 L658.0,595.1 L660.0,595.0 L662.0,594.8 L664.0,594.6 L666.0,594.4 L668.0,594.2 L670.0,593.9 L672.0,593.7 L674.0,593.5 L676.0,593.3 L678.0,593.0 L680.0,592.8 L682.0,592.5 L684.0,592.3 L686.0,592.0 M330.5,620.0 L332.5,620.0 L334.5,620.0 L336.6,619.9 L338.6,619.9 L340.6,619.9 L342.6,619.9 L344.7,619.9 L346.7,619.9 L348.7,619.9 L350.7,619.9 L352.7,619.9 L354.8,620.0 L356.8,620.0 L358.8,620.0 L360.8,620.1 L362.8,620.1 L364.9,620.2 L366.9,620.2 L368.9,620.3 L370.9,620.3 L372.9,620.4 L374.9,620.5 L377.0,620.6 L379.0,620.7 L381.0,620.8 L383.0,620.9 L385.0,621.0 L387.0,621.2 L389.1,621.3 L391.1,621.4 L393.1,621.6 L395.1,621.8 L397.1,621.9 L399.1,622.1 L401.1,622.3 L403.2,622.5 L405.2,622.7 L407.2,622.9 L409.2,623.1 L411.2,623.4 L413.2,623.6 L415.2,623.9 L417.2,624.1 L419.3,624.4 L421.3,624.6 L423.3,624.9 L425.3,625.1 L427.3,625.4 L429.3,625.7 L431.3,625.9 L433.3,626.2 L435.3,626.5 L437.3,626.7 L439.3,627.0 L441.4,627.3 L443.4,627.5 L445.4,627.8 L447.4,628.0 L449.4,628.3 L451.4,628.6 L453.4,628.8 L455.4,629.0 L457.4,629.3 L459.4,629.5 L461.4,629.7 L463.4,629.9 L465.4,630.1 L467.4,630.3 L469.4,630.5 L471.4,630.7 L473.4,630.9 L475.4,631.0 L477.5,631.2 L479.5,631.3 L481.5,631.4 L483.5,631.5 L485.5,631.6 L487.5,631.7 L489.5,631.8 L491.5,631.8 L493.5,631.8 L495.5,631.9 L497.5,631.9 L499.5,631.8 L501.5,631.8 L503.5,631.8 L505.5,631.7 L507.5,631.7 L509.5,631.6 L511.5,631.5 L513.5,631.5 L515.5,631.4 L517.5,631.3 L519.5,631.1 L521.5,631.0 L523.5,630.9 L525.5,630.8 L527.5,630.6 L529.5,630.5 L531.6,630.4 L533.6,630.2 L535.6,630.1 L537.6,629.9 L539.6,629.7 L541.7,629.6 L543.7,629.4 L545.7,629.3 L547.7,629.1 L549.7,628.9 L551.8,628.8 L553.8,628.6 L555.8,628.4 L557.9,628.3 L559.9,628.1 L561.9,627.9 L564.0,627.7 L566.0,627.5 L568.0,627.3 L570.0,627.1 L572.1,626.9 L574.1,626.7 L576.1,626.5 L578.2,626.3 L580.2,626.0 L582.2,625.8 L584.2,625.6 L586.3,625.3 L588.3,625.1 L590.3,624.8 L592.3,624.5 L594.4,624.3 L596.4,624.0 L598.4,623.7 L600.4,623.4 L602.4,623.1 L604.4,622.8 L606.4,622.4 L608.4,622.1 L610.4,621.7 L612.4,621.4 L614.4,621.0 L616.4,620.6 L618.4,620.3 L620.4,619.9 L622.3,619.4 L624.3,619.0 L626.3,618.6 L628.2,618.1 L630.2,617.7 L632.2,617.2 L634.1,616.7 L636.1,616.2 L638.0,615.7 L639.9,615.2 L641.9,614.7 L643.8,614.1 L645.7,613.6 L647.6,613.0 L649.5,612.4 L651.4,611.7 L653.3,611.1 L655.2,610.4 L657.0,609.7 L658.9,609.0 L660.7,608.2 L662.5,607.4 L664.3,606.6 L666.1,605.7 L667.9,604.8 L669.7,603.9 L671.4,602.9 L673.1,601.9 L674.8,600.8 L676.5,599.7 L678.1,598.6 L679.7,597.3 L681.3,596.1 L682.9,594.8 L684.5,593.4 L686.0,592.0 M686.0,592.0 L687.7,590.9 L689.3,589.7 L690.9,588.5 L692.5,587.3 L694.1,586.0 L695.7,584.8 L697.2,583.5 L698.8,582.2 L700.3,580.9 L701.8,579.6 L703.3,578.2 L704.8,576.9 L706.3,575.5 L707.8,574.1 L709.2,572.7 L710.7,571.3 L712.1,569.9 L713.6,568.5 L715.0,567.1 L716.5,565.7 L717.9,564.2 L719.3,562.8 L720.8,561.4 L722.2,559.9 L723.6,558.5 L725.0,557.1 L726.5,555.6 L727.9,554.2 L729.3,552.8 L730.8,551.4 L732.2,550.0 L733.7,548.6 L735.1,547.2 L736.6,545.8 L738.1,544.4 L739.6,543.0 L741.0,541.7 L742.6,540.4 L744.1,539.0 L745.6,537.7 L747.1,536.4 L748.7,535.1 L750.2,533.9 L751.8,532.6 L753.3,531.3 L754.9,530.1 L756.5,528.9 L758.1,527.6 L759.7,526.4 L761.3,525.2 L762.9,524.0 L764.5,522.8 L766.1,521.6 L767.7,520.4 L769.4,519.2 L771.0,518.0 L772.6,516.8 L774.3,515.7 L775.9,514.5 L777.5,513.3 L779.2,512.1 L780.8,511.0 L782.5,509.8 L784.1,508.6 L785.8,507.5 L787.4,506.3 L789.1,505.1 L790.7,504.0 L792.4,502.8 L794.0,501.7 L795.7,500.5 L797.3,499.4 L799.0,498.2 L800.7,497.1 L802.3,495.9 L804.0,494.8 L805.7,493.6 L807.3,492.5 L809.0,491.4 L810.7,490.2 L812.3,489.1 L814.0,488.0 L815.7,486.8 L817.4,485.7 L819.1,484.6 L820.7,483.5 L822.4,482.4 L824.1,481.3 L825.8,480.2 L827.5,479.1 L829.2,478.0 L830.9,476.9 L832.6,475.8 L834.3,474.7 L836.0,473.6 L837.7,472.5 L839.4,471.5 L841.2,470.4 L842.9,469.3 L844.6,468.3 L846.3,467.2 L848.1,466.2 L849.8,465.1 L851.5,464.1 L853.3,463.1 L855.0,462.1 L856.7,461.0 L858.5,460.0 L860.2,459.0 L862.0,458.0 L863.7,457.0 L865.5,456.0 L867.3,455.1 L869.0,454.1 L870.8,453.1 L872.6,452.1 L874.3,451.2 L876.1,450.2 L877.9,449.2 L879.7,448.3 L881.4,447.3 L883.2,446.4 L885.0,445.4 L886.8,444.5 L888.6,443.5 L890.3,442.6 L892.1,441.6 L893.9,440.7 L895.7,439.7 L897.5,438.8 L899.2,437.8 L901.0,436.8 L902.8,435.9 L904.6,434.9 L906.3,434.0 L908.1,433.0 L909.9,432.0 L911.6,431.1 L913.4,430.1 L915.2,429.1 L916.9,428.1 L918.7,427.1 L920.4,426.1 L922.2,425.1 L923.9,424.1 L925.7,423.1 L927.4,422.1 L929.1,421.1 L930.9,420.0 L932.6,419.0 L934.3,418.0 L936.0,416.9 L937.7,415.8 L939.4,414.8 L941.1,413.7 L942.8,412.6 L944.5,411.5 L946.2,410.4 L947.9,409.2 L949.5,408.1 L951.2,406.9 L952.8,405.8 L954.5,404.6 L956.1,403.4 L957.7,402.2 L959.4,401.0 L961.0,399.8 L962.6,398.6 L964.2,397.4 L965.8,396.1 L967.4,394.9 L969.0,393.6 L970.5,392.3 L972.1,391.0 L973.7,389.7 L975.2,388.4 L976.8,387.1 L978.3,385.8 L979.8,384.5 L981.4,383.2 L982.9,381.8 L984.4,380.5 L985.9,379.1 L987.4,377.8 L988.9,376.4 L990.4,375.0 L991.8,373.6 L993.3,372.2 L994.8,370.8 L996.2,369.4 L997.7,368.0 L999.1,366.6 L1000.5,365.2 L1002.0,363.8 L1003.4,362.3 L1004.8,360.9 L1006.2,359.5 L1007.6,358.0 L1009.0,356.6 L1010.4,355.1 L1011.7,353.7 L1013.1,352.2 L1014.4,350.8 L1015.8,349.3 M686.0,592.0 L687.6,590.8 L689.2,589.5 L690.8,588.3 L692.4,587.0 L694.0,585.8 L695.6,584.6 L697.2,583.4 L698.8,582.1 L700.4,580.9 L702.0,579.7 L703.6,578.5 L705.2,577.3 L706.9,576.1 L708.5,574.9 L710.1,573.7 L711.7,572.5 L713.4,571.4 L715.0,570.2 L716.6,569.0 L718.3,567.8 L719.9,566.7 L721.6,565.5 L723.2,564.3 L724.9,563.2 L726.5,562.0 L728.2,560.9 L729.9,559.8 L731.5,558.6 L733.2,557.5 L734.9,556.4 L736.5,555.2 L738.2,554.1 L739.9,553.0 L741.6,551.9 L743.2,550.8 L744.9,549.7 L746.6,548.6 L748.3,547.5 L750.0,546.4 L751.7,545.3 L753.4,544.2 L755.1,543.2 L756.8,542.1 L758.5,541.0 L760.2,540.0 L762.0,538.9 L763.7,537.9 L765.4,536.8 L767.1,535.8 L768.8,534.7 L770.6,533.7 L772.3,532.7 L774.0,531.6 L775.8,530.6 L777.5,529.6 L779.3,528.6 L781.0,527.6 L782.8,526.6 L784.5,525.6 L786.3,524.6 L788.0,523.6 L789.8,522.6 L791.6,521.7 L793.3,520.7 L795.1,519.7 L796.9,518.8 L798.6,517.8 L800.4,516.9 L802.2,515.9 L804.0,515.0 L805.8,514.0 L807.5,513.1 L809.3,512.2 L811.1,511.2 L812.9,510.3 L814.7,509.4 L816.5,508.5 L818.3,507.6 L820.1,506.6 L821.9,505.7 L823.7,504.8 L825.5,503.9 L827.3,503.0 L829.1,502.2 L830.9,501.3 L832.7,500.4 L834.5,499.5 L836.3,498.7 L838.1,497.8 L840.0,496.9 L841.8,496.1 L843.6,495.2 L845.4,494.4 L847.3,493.6 L849.1,492.7 L850.9,491.9 L852.8,491.1 L854.6,490.3 L856.5,489.5 L858.3,488.7 L860.2,488.0 L862.1,487.2 L863.9,486.4 L865.8,485.7 L867.7,485.0 L869.6,484.2 L871.5,483.5 L873.4,482.8 L875.3,482.0 L877.2,481.3 L879.0,480.6 L880.9,479.9 L882.8,479.2 L884.7,478.4 L886.6,477.7 L888.5,477.0 L890.4,476.3 L892.3,475.6 L894.2,474.8 L896.1,474.1 L898.0,473.3 L899.9,472.6 L901.7,471.8 L903.6,471.1 L905.5,470.3 L907.3,469.5 L909.2,468.7 L911.0,467.9 L912.9,467.1 L914.7,466.3 L916.5,465.4 L918.3,464.6 L920.1,463.7 L921.9,462.8 L923.7,461.9 L925.5,461.0 L927.3,460.0 L929.0,459.1 L930.8,458.1 L932.5,457.1 L934.2,456.1 L935.9,455.0 L937.6,454.0 L939.3,452.9 L941.0,451.8 L942.6,450.7 L944.3,449.5 L945.9,448.4 L947.5,447.2 L949.1,446.0 L950.7,444.8 L952.3,443.6 L953.8,442.3 L955.4,441.1 L956.9,439.8 L958.4,438.5 L959.9,437.1 L961.4,435.8 L962.9,434.4 L964.3,433.1 L965.7,431.7 L967.1,430.2 L968.5,428.8 L969.9,427.3 L971.3,425.8 L972.6,424.3 L973.9,422.8 L975.2,421.3 L976.5,419.7 L977.8,418.2 L979.0,416.6 L980.2,415.0 L981.5,413.3 L982.6,411.7 L983.8,410.1 L985.0,408.4 L986.1,406.7 L987.3,405.0 L988.4,403.3 L989.5,401.6 L990.6,399.9 L991.6,398.1 L992.7,396.4 L993.7,394.6 L994.7,392.8 L995.7,391.1 L996.7,389.3 L997.7,387.5 L998.7,385.7 L999.7,383.9 L1000.6,382.1 L1001.5,380.3 L1002.5,378.4 L1003.4,376.6 L1004.3,374.8 L1005.1,373.0 L1006.0,371.1 L1006.9,369.3 L1007.7,367.5 L1008.6,365.7 L1009.4,363.8 L1010.3,362.0 L1011.1,360.2 L1011.9,358.4 L1012.7,356.5 L1013.5,354.7 L1014.3,352.9 L1015.0,351.1 L1015.8,349.3"/><path stroke="#008080" d="M330.5,627.3 L332.4,626.6 L334.2,625.9 L336.1,625.2 L338.0,624.6 L339.9,623.9 L341.8,623.3 L343.7,622.7 L345.6,622.1 L347.5,621.5 L349.4,620.9 L351.3,620.3 L353.3,619.8 L355.2,619.2 L357.1,618.7 L359.0,618.2 L361.0,617.7 L362.9,617.2 L364.9,616.7 L366.8,616.2 L368.8,615.8 L370.7,615.3 L372.7,614.9 L374.7,614.4 L376.6,614.0 L378.6,613.6 L380.5,613.2 L382.5,612.8 L384.5,612.4 L386.5,612.0 L388.4,611.6 L390.4,611.2 L392.4,610.9 L394.4,610.5 L396.3,610.2 L398.3,609.8 L400.3,609.5 L402.3,609.1 L404.3,608.8 L406.3,608.5 L408.3,608.2 L410.3,607.9 L412.3,607.6 L414.2,607.3 L416.2,607.0 L418.2,606.7 L420.2,606.5 L422.2,606.2 L424.3,606.0 L426.3,605.7 L428.3,605.5 L430.3,605.2 L432.3,605.0 L434.3,604.8 L436.3,604.5 L438.3,604.3 L440.3,604.1 L442.3,603.9 L444.3,603.7 L446.4,603.5 L448.4,603.3 L450.4,603.1 L452.4,603.0 L454.4,602.8 L456.4,602.6 L458.5,602.5 L460.5,602.3 L462.5,602.1 L464.5,602.0 L466.5,601.8 L468.6,601.7 L470.6,601.6 L472.6,601.4 L474.6,601.3 L476.6,601.2 L478.7,601.1 L480.7,600.9 L482.7,600.8 L484.7,600.7 L486.8,600.6 L488.8,600.5 L490.8,600.4 L492.8,600.3 L494.9,600.2 L496.9,600.1 L498.9,600.0 L500.9,599.9 L503.0,599.9 L505.0,599.8 L507.0,599.7 L509.0,599.6 L511.0,599.6 L513.1,599.5 L515.1,599.4 L517.1,599.4 L519.1,599.3 L521.1,599.2 L523.2,599.2 L525.2,599.1 L527.2,599.1 L529.2,599.0 L531.2,598.9 L533.3,598.9 L535.3,598.8 L537.3,598.8 L539.3,598.7 L541.3,598.7 L543.4,598.6 L545.4,598.6 L547.4,598.5 L549.4,598.5 L551.4,598.4 L553.4,598.4 L555.5,598.3 L557.5,598.3 L559.5,598.2 L561.5,598.2 L563.5,598.1 L565.5,598.1 L567.6,598.0 L569.6,598.0 L571.6,597.9 L573.6,597.9 L575.6,597.8 L577.6,597.7 L579.6,597.7 L581.7,597.6 L583.7,597.5 L585.7,597.5 L587.7,597.4 L589.7,597.3 L591.7,597.3 L593.7,597.2 L595.8,597.1 L597.8,597.0 L599.8,596.9 L601.8,596.8 L603.8,596.8 L605.8,596.7 L607.8,596.6 L609.8,596.5 L611.8,596.4 L613.8,596.3 L615.9,596.1 L617.9,596.0 L619.9,595.9 L621.9,595.8 L623.9,595.7 L625.9,595.5 L627.9,595.4 L629.9,595.3 L631.9,595.1 L633.9,595.0 L635.9,594.8 L637.9,594.6 L639.9,594.5 L642.0,594.3 L644.0,594.1 L646.0,594.0 L648.0,593.8 L650.0,593.6 L652.0,593.4 L654.0,593.2 L656.0,593.0 L658.0,592.7 L660.0,592.5 L662.0,592.3 L664.0,592.1 L666.0,591.8 L668.0,591.6 L670.0,591.3 L672.0,591.0 L674.0,590.8 L676.0,590.5 L678.0,590.2 L680.0,589.9 L682.0,589.6 L684.0,589.3 L686.0,589.0 L688.0,588.7 L690.0,588.3 L692.0,588.0 M330.5,627.3 L332.5,627.3 L334.5,627.4 L336.5,627.4 L338.6,627.5 L340.6,627.6 L342.6,627.6 L344.6,627.7 L346.6,627.8 L348.6,627.9 L350.7,628.0 L352.7,628.1 L354.7,628.2 L356.7,628.3 L358.7,628.4 L360.7,628.6 L362.8,628.7 L364.8,628.8 L366.8,629.0 L368.8,629.1 L370.8,629.3 L372.8,629.4 L374.8,629.6 L376.9,629.7 L378.9,629.9 L380.9,630.1 L382.9,630.2 L384.9,630.4 L386.9,630.6 L389.0,630.8 L391.0,631.0 L393.0,631.1 L395.0,631.3 L397.0,631.5 L399.0,631.7 L401.1,631.9 L403.1,632.1 L405.1,632.3 L407.1,632.5 L409.1,632.7 L411.1,632.9 L413.2,633.1 L415.2,633.3 L417.2,633.4 L419.2,633.6 L421.2,633.8 L423.2,634.0 L425.3,634.2 L427.3,634.4 L429.3,634.6 L431.3,634.8 L433.3,635.0 L435.3,635.2 L437.4,635.4 L439.4,635.5 L441.4,635.7 L443.4,635.9 L445.4,636.1 L447.4,636.3 L449.4,636.4 L451.5,636.6 L453.5,636.8 L455.5,636.9 L457.5,637.1 L459.5,637.2 L461.5,637.4 L463.6,637.5 L465.6,637.7 L467.6,637.8 L469.6,637.9 L471.6,638.0 L473.6,638.2 L475.6,638.3 L477.7,638.4 L479.7,638.5 L481.7,638.6 L483.7,638.7 L485.7,638.8 L487.7,638.8 L489.7,638.9 L491.7,639.0 L493.8,639.0 L495.8,639.1 L497.8,639.1 L499.8,639.1 L501.8,639.2 L503.8,639.2 L505.8,639.2 L507.8,639.2 L509.9,639.2 L511.9,639.2 L513.9,639.1 L515.9,639.1 L517.9,639.1 L519.9,639.0 L521.9,639.0 L523.9,638.9 L525.9,638.8 L527.9,638.7 L530.0,638.6 L532.0,638.5 L534.0,638.4 L536.0,638.2 L538.0,638.1 L540.0,637.9 L542.0,637.8 L544.0,637.6 L546.0,637.4 L548.0,637.2 L550.0,637.0 L552.0,636.7 L554.1,636.5 L556.1,636.3 L558.1,636.0 L560.1,635.7 L562.1,635.5 L564.1,635.2 L566.1,634.9 L568.1,634.6 L570.1,634.3 L572.1,634.0 L574.1,633.6 L576.1,633.3 L578.1,633.0 L580.1,632.6 L582.1,632.3 L584.1,631.9 L586.1,631.5 L588.1,631.2 L590.1,630.8 L592.1,630.4 L594.1,630.0 L596.1,629.6 L598.0,629.2 L600.0,628.8 L602.0,628.4 L604.0,628.0 L606.0,627.6 L608.0,627.1 L610.0,626.7 L612.0,626.3 L613.9,625.8 L615.9,625.4 L617.9,624.9 L619.9,624.5 L621.9,624.1 L623.8,623.6 L625.8,623.1 L627.8,622.7 L629.8,622.2 L631.7,621.7 L633.7,621.2 L635.7,620.7 L637.6,620.2 L639.6,619.7 L641.5,619.2 L643.4,618.6 L645.4,618.0 L647.3,617.4 L649.2,616.8 L651.1,616.2 L653.0,615.5 L654.9,614.8 L656.7,614.1 L658.6,613.3 L660.4,612.5 L662.2,611.7 L664.0,610.9 L665.8,610.0 L667.6,609.1 L669.3,608.1 L671.0,607.1 L672.7,606.1 L674.4,605.0 L676.0,603.9 L677.6,602.7 L679.2,601.5 L680.8,600.2 L682.3,598.9 L683.8,597.5 L685.2,596.0 L686.7,594.6 L688.1,593.0 L689.4,591.4 L690.7,589.7 L692.0,588.0 M692.0,588.0 L693.7,586.8 L695.3,585.7 L696.9,584.5 L698.5,583.2 L700.1,582.0 L701.7,580.7 L703.2,579.4 L704.7,578.1 L706.2,576.7 L707.7,575.4 L709.1,574.0 L710.6,572.6 L712.0,571.2 L713.4,569.7 L714.8,568.3 L716.2,566.9 L717.6,565.4 L718.9,563.9 L720.3,562.5 L721.7,561.0 L723.0,559.5 L724.3,558.0 L725.7,556.5 L727.0,555.0 L728.3,553.4 L729.7,551.9 L731.0,550.4 L732.3,548.9 L733.7,547.4 L735.0,545.9 L736.3,544.4 L737.7,542.9 L739.0,541.4 L740.4,539.9 L741.8,538.4 L743.1,537.0 L744.5,535.5 L745.9,534.0 L747.3,532.6 L748.7,531.1 L750.1,529.7 L751.6,528.3 L753.0,526.9 L754.4,525.4 L755.9,524.0 L757.3,522.6 L758.8,521.2 L760.2,519.9 L761.7,518.5 L763.2,517.1 L764.6,515.7 L766.1,514.4 L767.6,513.0 L769.1,511.7 L770.6,510.3 L772.1,509.0 L773.6,507.6 L775.1,506.3 L776.6,505.0 L778.2,503.7 L779.7,502.3 L781.2,501.0 L782.7,499.7 L784.3,498.4 L785.8,497.1 L787.4,495.8 L788.9,494.6 L790.5,493.3 L792.0,492.0 L793.6,490.8 L795.2,489.5 L796.7,488.2 L798.3,487.0 L799.9,485.8 L801.5,484.5 L803.1,483.3 L804.7,482.1 L806.3,480.9 L807.9,479.7 L809.5,478.6 L811.2,477.4 L812.8,476.2 L814.4,475.1 L816.1,474.0 L817.7,472.8 L819.4,471.7 L821.1,470.6 L822.8,469.5 L824.5,468.5 L826.2,467.4 L827.9,466.3 L829.6,465.3 L831.3,464.3 L833.0,463.2 L834.7,462.2 L836.5,461.2 L838.2,460.2 L839.9,459.2 L841.7,458.2 L843.4,457.2 L845.2,456.2 L846.9,455.2 L848.7,454.3 L850.4,453.3 L852.2,452.3 L853.9,451.3 L855.7,450.3 L857.4,449.3 L859.1,448.2 L860.9,447.2 L862.6,446.2 L864.3,445.2 L866.1,444.2 L867.8,443.1 L869.5,442.1 L871.2,441.1 L873.0,440.0 L874.7,439.0 L876.4,437.9 L878.1,436.9 L879.8,435.8 L881.5,434.8 L883.3,433.7 L885.0,432.7 L886.7,431.6 L888.4,430.6 L890.1,429.5 L891.8,428.4 L893.5,427.4 L895.2,426.3 L896.9,425.2 L898.7,424.2 L900.4,423.1 L902.1,422.0 L903.8,420.9 L905.5,419.9 L907.2,418.8 L908.9,417.7 L910.6,416.6 L912.3,415.6 L914.0,414.5 L915.7,413.4 L917.4,412.3 L919.1,411.2 L920.7,410.1 L922.4,409.0 L924.1,407.9 L925.8,406.7 L927.4,405.6 L929.1,404.5 L930.7,403.3 L932.3,402.2 L934.0,401.0 L935.6,399.8 L937.2,398.6 L938.8,397.4 L940.4,396.2 L941.9,394.9 L943.5,393.7 L945.1,392.4 L946.6,391.1 L948.1,389.8 L949.6,388.5 L951.1,387.2 L952.6,385.9 L954.1,384.5 L955.6,383.1 L957.1,381.8 L958.5,380.4 L960.0,379.0 L961.4,377.6 L962.8,376.2 L964.3,374.8 L965.7,373.3 L967.1,371.9 L968.5,370.5 L969.9,369.0 L971.3,367.6 L972.8,366.1 L974.2,364.7 L975.6,363.2 L976.9,361.8 L978.3,360.3 L979.7,358.8 L981.1,357.4 L982.5,355.9 L983.9,354.5 L985.3,353.0 L986.7,351.5 L988.1,350.1 L989.5,348.7 L990.9,347.2 L992.4,345.8 L993.8,344.3 L995.2,342.9 L996.6,341.4 L998.0,340.0 L999.4,338.5 L1000.8,337.1 L1002.2,335.7 L1003.6,334.2 L1004.9,332.8 L1006.3,331.3 L1007.7,329.8 L1009.1,328.4 L1010.4,326.9 L1011.8,325.4 L1013.1,324.0 L1014.5,322.5 L1015.8,321.0 M692.0,588.0 L693.6,586.8 L695.3,585.6 L696.9,584.4 L698.5,583.2 L700.1,582.0 L701.7,580.8 L703.3,579.5 L704.9,578.3 L706.4,577.0 L708.0,575.8 L709.6,574.5 L711.1,573.2 L712.7,572.0 L714.2,570.7 L715.8,569.4 L717.3,568.1 L718.9,566.8 L720.4,565.5 L722.0,564.2 L723.5,562.9 L725.0,561.6 L726.6,560.3 L728.1,559.1 L729.6,557.8 L731.2,556.5 L732.7,555.2 L734.3,553.9 L735.8,552.6 L737.4,551.3 L738.9,550.1 L740.5,548.8 L742.0,547.5 L743.6,546.3 L745.2,545.0 L746.8,543.8 L748.3,542.5 L749.9,541.3 L751.5,540.1 L753.1,538.8 L754.7,537.6 L756.3,536.4 L758.0,535.3 L759.6,534.1 L761.3,532.9 L762.9,531.8 L764.6,530.6 L766.2,529.5 L767.9,528.4 L769.6,527.3 L771.3,526.2 L773.0,525.1 L774.7,524.0 L776.4,522.9 L778.1,521.8 L779.9,520.8 L781.6,519.7 L783.3,518.7 L785.0,517.6 L786.8,516.6 L788.5,515.6 L790.3,514.5 L792.0,513.5 L793.8,512.5 L795.5,511.5 L797.2,510.5 L799.0,509.4 L800.7,508.4 L802.5,507.4 L804.2,506.4 L806.0,505.4 L807.7,504.4 L809.5,503.4 L811.2,502.4 L813.0,501.5 L814.7,500.5 L816.5,499.5 L818.2,498.6 L820.0,497.7 L821.8,496.7 L823.6,495.8 L825.4,494.9 L827.2,494.1 L829.0,493.2 L830.8,492.4 L832.6,491.5 L834.4,490.7 L836.2,489.8 L838.1,489.0 L839.9,488.2 L841.7,487.3 L843.5,486.5 L845.3,485.6 L847.1,484.8 L849.0,483.9 L850.8,483.1 L852.6,482.2 L854.4,481.4 L856.2,480.5 L858.0,479.6 L859.8,478.7 L861.6,477.9 L863.4,477.0 L865.2,476.1 L867.0,475.2 L868.8,474.3 L870.6,473.4 L872.4,472.5 L874.2,471.6 L876.0,470.7 L877.8,469.8 L879.6,468.9 L881.4,468.0 L883.2,467.0 L885.0,466.1 L886.8,465.2 L888.6,464.2 L890.4,463.3 L892.1,462.4 L893.9,461.4 L895.7,460.4 L897.5,459.5 L899.2,458.5 L901.0,457.5 L902.8,456.5 L904.5,455.5 L906.3,454.5 L908.0,453.5 L909.8,452.5 L911.5,451.4 L913.3,450.4 L915.0,449.3 L916.7,448.3 L918.4,447.2 L920.1,446.1 L921.8,445.0 L923.5,443.9 L925.2,442.8 L926.9,441.7 L928.5,440.6 L930.2,439.4 L931.8,438.2 L933.5,437.1 L935.1,435.9 L936.7,434.7 L938.3,433.5 L939.9,432.2 L941.5,431.0 L943.1,429.7 L944.7,428.5 L946.2,427.2 L947.8,425.9 L949.3,424.6 L950.9,423.3 L952.4,422.0 L953.9,420.6 L955.4,419.2 L956.8,417.9 L958.3,416.5 L959.8,415.1 L961.2,413.7 L962.6,412.3 L964.0,410.8 L965.4,409.4 L966.8,407.9 L968.2,406.5 L969.6,405.0 L970.9,403.5 L972.3,402.0 L973.6,400.5 L974.9,398.9 L976.2,397.4 L977.4,395.8 L978.7,394.3 L980.0,392.7 L981.2,391.1 L982.4,389.5 L983.6,387.9 L984.8,386.3 L986.0,384.7 L987.1,383.0 L988.3,381.4 L989.4,379.7 L990.5,378.0 L991.6,376.3 L992.7,374.6 L993.7,372.9 L994.8,371.2 L995.8,369.5 L996.8,367.7 L997.8,366.0 L998.7,364.2 L999.7,362.4 L1000.6,360.7 L1001.5,358.9 L1002.4,357.1 L1003.3,355.3 L1004.2,353.4 L1005.0,351.6 L1005.8,349.8 L1006.6,347.9 L1007.4,346.0 L1008.2,344.2 L1008.9,342.3 L1009.7,340.4 L1010.4,338.5 L1011.1,336.6 L1011.7,334.7 L1012.4,332.8 L1013.0,330.8 L1013.6,328.9 L1014.2,326.9 L1014.7,325.0 L1015.3,323.0 L1015.8,321.0"/><path stroke="#ff00ff" d="M330.5,637.0 L332.1,635.7 L333.7,634.5 L335.3,633.3 L336.9,632.2 L338.5,631.1 L340.2,630.0 L341.9,629.0 L343.6,628.0 L345.3,627.0 L347.1,626.1 L348.9,625.2 L350.6,624.3 L352.4,623.5 L354.2,622.7 L356.1,621.9 L357.9,621.2 L359.8,620.4 L361.6,619.7 L363.5,619.1 L365.4,618.4 L367.3,617.8 L369.2,617.2 L371.1,616.7 L373.1,616.1 L375.0,615.6 L377.0,615.1 L378.9,614.6 L380.9,614.1 L382.8,613.6 L384.8,613.2 L386.8,612.8 L388.8,612.3 L390.8,611.9 L392.7,611.6 L394.7,611.2 L396.7,610.8 L398.7,610.4 L400.7,610.1 L402.7,609.7 L404.7,609.4 L406.7,609.1 L408.7,608.7 L410.7,608.4 L412.7,608.1 L414.7,607.8 L416.7,607.5 L418.7,607.2 L420.7,606.9 L422.7,606.6 L424.7,606.3 L426.6,606.1 L428.6,605.8 L430.6,605.5 L432.6,605.3 L434.6,605.0 L436.6,604.8 L438.6,604.6 L440.6,604.3 L442.6,604.1 L444.6,603.9 L446.6,603.7 L448.6,603.5 L450.6,603.3 L452.6,603.1 L454.6,602.9 L456.6,602.7 L458.6,602.5 L460.6,602.3 L462.6,602.1 L464.6,601.9 L466.6,601.8 L468.6,601.6 L470.6,601.4 L472.6,601.3 L474.6,601.1 L476.6,601.0 L478.6,600.8 L480.6,600.7 L482.6,600.5 L484.6,600.4 L486.6,600.2 L488.5,600.1 L490.5,600.0 L492.5,599.8 L494.5,599.7 L496.5,599.6 L498.5,599.5 L500.5,599.3 L502.5,599.2 L504.5,599.1 L506.5,599.0 L508.5,598.9 L510.5,598.8 L512.5,598.6 L514.5,598.5 L516.5,598.4 L518.5,598.3 L520.5,598.2 L522.5,598.1 L524.5,598.0 L526.5,597.9 L528.5,597.8 L530.5,597.7 L532.5,597.6 L534.5,597.5 L536.5,597.4 L538.5,597.3 L540.5,597.2 L542.5,597.1 L544.5,597.0 L546.5,596.9 L548.5,596.8 L550.4,596.7 L552.4,596.6 L554.4,596.5 L556.4,596.4 L558.4,596.3 L560.4,596.2 L562.4,596.1 L564.4,596.0 L566.4,595.9 L568.4,595.8 L570.4,595.7 L572.4,595.5 L574.4,595.4 L576.4,595.3 L578.4,595.2 L580.4,595.1 L582.4,595.0 L584.4,594.8 L586.4,594.7 L588.3,594.6 L590.3,594.5 L592.3,594.3 L594.3,594.2 L596.3,594.1 L598.3,593.9 L600.3,593.8 L602.3,593.6 L604.3,593.5 L606.3,593.4 L608.3,593.2 L610.3,593.1 L612.3,592.9 L614.3,592.7 L616.3,592.6 L618.3,592.4 L620.3,592.3 L622.3,592.1 L624.3,591.9 L626.3,591.8 L628.4,591.6 L630.4,591.4 L632.4,591.2 L634.4,591.0 L636.4,590.9 L638.4,590.7 L640.5,590.5 L642.5,590.3 L644.5,590.1 L646.5,589.9 L648.6,589.7 L650.6,589.4 L652.6,589.2 L654.6,588.9 L656.6,588.7 L658.6,588.4 L660.6,588.1 L662.6,587.7 L664.6,587.3 L666.6,586.9 L668.5,586.5 L670.5,586.0 L672.4,585.5 L674.3,585.0 L676.2,584.4 L678.1,583.8 L679.9,583.1 L681.8,582.4 L683.6,581.6 L685.4,580.8 L687.2,580.0 L689.0,579.1 L690.7,578.1 L692.4,577.1 L694.1,576.1 L695.7,575.0 L697.4,573.9 L699.0,572.7 L700.5,571.5 L702.1,570.3 L703.6,569.0 L705.1,567.7 L706.5,566.3 L707.9,564.9 L709.3,563.5 L710.7,562.0 L712.0,560.5 L713.3,559.0 L714.6,557.5 L715.9,555.9 L717.1,554.3 L718.3,552.7 L719.6,551.1 L720.8,549.5 L722.0,547.8 L723.1,546.2 L724.3,544.5 L725.5,542.9 L726.7,541.2 L727.9,539.6 L729.1,537.9 L730.3,536.3 L731.4,534.6 L732.7,533.0 L733.9,531.4 L735.1,529.8 L736.3,528.2 L737.6,526.6 L738.8,525.0 L740.1,523.5 L741.4,521.9 L742.6,520.4 L743.9,518.9 L745.2,517.4 L746.6,515.9 L747.9,514.4 L749.2,512.9 L750.6,511.5 L751.9,510.0 L753.3,508.6 L754.7,507.2 L756.1,505.8 L757.5,504.4 L759.0,503.0 L760.4,501.6 L761.9,500.3 L763.3,498.9 L764.8,497.6 L766.3,496.3 L767.8,495.0 L769.3,493.6 L770.9,492.4 L772.4,491.1 L773.9,489.8 L775.5,488.5 L777.0,487.2 L778.6,486.0 L780.2,484.7 L781.8,483.5 L783.3,482.2 L784.9,481.0 L786.5,479.8 L788.1,478.5 L789.7,477.3 L791.3,476.1 L792.9,474.9 L794.5,473.7 L796.1,472.4 L797.7,471.2 L799.3,470.0 L800.9,468.8 L802.5,467.6 L804.1,466.4 L805.7,465.2 L807.3,464.0 L808.9,462.7 L810.5,461.5 L812.1,460.3 L813.7,459.1 L815.3,457.9 L816.9,456.7 L818.5,455.4 L820.1,454.2 L821.7,453.0 L823.3,451.8 L824.8,450.6 L826.4,449.3 L828.0,448.1 L829.6,446.9 L831.2,445.7 L832.7,444.4 L834.3,443.2 L835.9,442.0 L837.4,440.8 L839.0,439.5 L840.6,438.3 L842.1,437.1 L843.7,435.8 L845.3,434.6 L846.9,433.4 L848.4,432.2 L850.0,431.0 L851.6,429.8 L853.2,428.6 L854.8,427.4 L856.4,426.2 L858.0,425.1 L859.6,423.9 L861.2,422.8 L862.9,421.6 L864.5,420.5 L866.2,419.4 L867.8,418.3 L869.5,417.2 L871.1,416.1 L872.8,415.0 L874.5,413.9 L876.2,412.8 L877.8,411.7 L879.5,410.7 L881.2,409.6 L882.9,408.5 L884.6,407.4 L886.3,406.3 L888.0,405.2 L889.7,404.1 L891.4,403.1 L893.0,402.0 L894.7,400.9 L896.4,399.8 L898.1,398.7 L899.8,397.6 L901.5,396.5 L903.2,395.4 L904.8,394.3 L906.5,393.1 L908.2,392.0 L909.9,390.9 L911.5,389.8 L913.2,388.6 L914.9,387.5 L916.5,386.3 L918.1,385.2 L919.8,384.0 L921.4,382.8 L923.0,381.7 L924.7,380.5 L926.3,379.3 L927.9,378.1 L929.5,376.8 L931.0,375.6 L932.6,374.4 L934.2,373.1 L935.7,371.9 L937.3,370.6 L938.8,369.3 L940.3,368.0 L941.9,366.7 L943.4,365.4 L944.8,364.1 L946.3,362.7 L947.8,361.4 L949.2,360.0 L950.7,358.6 L952.1,357.2 L953.5,355.8 L954.9,354.4 L956.3,352.9 L957.7,351.5 L959.0,350.0 L960.4,348.5 L961.7,347.0 L963.0,345.5 L964.3,344.0 L965.6,342.5 L966.9,341.0 L968.2,339.4 L969.5,337.9 L970.8,336.3 L972.0,334.7 L973.3,333.2 L974.5,331.6 L975.8,330.0 L977.0,328.4 L978.2,326.8 L979.5,325.2 L980.7,323.6 L981.9,322.0 L983.1,320.4 L984.3,318.8 L985.5,317.2 L986.7,315.5 L987.9,313.9 L989.1,312.3 L990.3,310.7 L991.5,309.0 L992.7,307.4 L993.9,305.8 L995.1,304.2 L996.3,302.6 L997.5,300.9 L998.7,299.3 L999.9,297.7 L1001.1,296.1 L1002.3,294.5 L1003.5,292.9 L1004.7,291.3 L1005.9,289.7 L1007.1,288.2 L1008.3,286.6 L1009.6,285.0 L1010.8,283.5 L1012.0,281.9 L1013.3,280.4 L1014.5,278.8 L1015.8,277.3 M330.5,637.0 L332.5,637.1 L334.5,637.2 L336.5,637.3 L338.5,637.4 L340.5,637.6 L342.5,637.7 L344.5,637.9 L346.4,638.0 L348.4,638.2 L350.4,638.4 L352.4,638.6 L354.4,638.8 L356.4,639.0 L358.4,639.2 L360.4,639.5 L362.4,639.7 L364.4,640.0 L366.4,640.2 L368.4,640.5 L370.4,640.7 L372.4,641.0 L374.4,641.2 L376.4,641.5 L378.4,641.8 L380.4,642.1 L382.4,642.4 L384.4,642.6 L386.4,642.9 L388.4,643.2 L390.4,643.5 L392.4,643.8 L394.4,644.1 L396.4,644.3 L398.4,644.6 L400.3,644.9 L402.3,645.2 L404.3,645.5 L406.3,645.7 L408.3,646.0 L410.3,646.3 L412.3,646.5 L414.3,646.8 L416.3,647.0 L418.3,647.3 L420.3,647.5 L422.3,647.7 L424.3,648.0 L426.3,648.2 L428.3,648.4 L430.3,648.6 L432.3,648.8 L434.3,649.0 L436.3,649.1 L438.3,649.3 L440.3,649.4 L442.3,649.6 L444.3,649.7 L446.3,649.8 L448.3,649.9 L450.3,650.0 L452.3,650.1 L454.3,650.2 L456.3,650.2 L458.3,650.3 L460.3,650.3 L462.3,650.3 L464.3,650.3 L466.2,650.3 L468.2,650.3 L470.2,650.2 L472.2,650.2 L474.2,650.2 L476.2,650.1 L478.2,650.0 L480.2,649.9 L482.2,649.8 L484.2,649.7 L486.2,649.6 L488.2,649.5 L490.2,649.4 L492.2,649.2 L494.2,649.1 L496.2,648.9 L498.2,648.8 L500.2,648.6 L502.2,648.4 L504.1,648.2 L506.1,648.0 L508.1,647.8 L510.1,647.6 L512.1,647.4 L514.1,647.2 L516.1,646.9 L518.1,646.7 L520.1,646.5 L522.1,646.2 L524.1,646.0 L526.1,645.7 L528.1,645.5 L530.1,645.2 L532.1,644.9 L534.1,644.7 L536.0,644.4 L538.0,644.1 L540.0,643.8 L542.0,643.5 L544.0,643.2 L546.0,643.0 L548.0,642.7 L550.0,642.4 L552.0,642.1 L554.0,641.8 L556.0,641.5 L558.0,641.2 L560.0,640.9 L562.0,640.6 L564.0,640.3 L566.0,640.0 L567.9,639.6 L569.9,639.3 L571.9,639.0 L573.9,638.7 L575.9,638.4 L577.9,638.1 L579.9,637.8 L581.9,637.5 L583.9,637.2 L585.9,636.9 L587.9,636.6 L589.9,636.3 L591.9,636.0 L593.9,635.7 L595.8,635.4 L597.8,635.1 L599.8,634.7 L601.8,634.4 L603.8,634.0 L605.7,633.7 L607.7,633.3 L609.7,632.9 L611.6,632.5 L613.6,632.1 L615.5,631.7 L617.4,631.2 L619.4,630.7 L621.3,630.3 L623.2,629.7 L625.1,629.2 L627.0,628.7 L628.9,628.1 L630.8,627.5 L632.7,626.9 L634.6,626.2 L636.4,625.5 L638.3,624.8 L640.1,624.1 L641.9,623.3 L643.8,622.5 L645.6,621.6 L647.4,620.8 L649.2,619.9 L650.9,619.0 L652.7,618.0 L654.5,617.1 L656.2,616.1 L657.9,615.0 L659.7,614.0 L661.4,612.9 L663.1,611.9 L664.8,610.8 L666.4,609.6 L668.1,608.5 L669.8,607.3 L671.4,606.2 L673.0,605.0 L674.7,603.8 L676.3,602.6 L677.9,601.4 L679.5,600.1 L681.0,598.9 L682.6,597.6 L684.2,596.3 L685.7,595.0 L687.2,593.7 L688.8,592.4 L690.3,591.1 L691.8,589.8 L693.3,588.4 L694.7,587.1 L696.2,585.7 L697.7,584.3 L699.1,582.9 L700.5,581.5 L702.0,580.1 L703.4,578.7 L704.8,577.3 L706.2,575.9 L707.6,574.4 L709.0,573.0 L710.4,571.5 L711.8,570.1 L713.2,568.7 L714.6,567.2 L716.0,565.8 L717.4,564.4 L718.9,563.0 L720.3,561.6 L721.7,560.2 L723.2,558.8 L724.6,557.4 L726.1,556.0 L727.5,554.7 L729.0,553.3 L730.5,552.0 L732.0,550.6 L733.5,549.3 L735.0,548.0 L736.5,546.7 L738.0,545.4 L739.5,544.1 L741.0,542.8 L742.6,541.5 L744.1,540.2 L745.6,539.0 L747.2,537.7 L748.8,536.5 L750.3,535.2 L751.9,534.0 L753.4,532.7 L755.0,531.5 L756.6,530.3 L758.2,529.1 L759.8,527.9 L761.4,526.6 L763.0,525.4 L764.6,524.2 L766.2,523.1 L767.8,521.9 L769.4,520.7 L771.0,519.5 L772.7,518.3 L774.3,517.1 L775.9,516.0 L777.5,514.8 L779.2,513.6 L780.8,512.5 L782.4,511.3 L784.1,510.2 L785.7,509.0 L787.4,507.9 L789.0,506.7 L790.7,505.6 L792.3,504.4 L794.0,503.3 L795.6,502.2 L797.3,501.0 L798.9,499.9 L800.6,498.8 L802.3,497.6 L803.9,496.5 L805.6,495.4 L807.2,494.2 L808.9,493.1 L810.6,492.0 L812.2,490.9 L813.9,489.7 L815.6,488.6 L817.3,487.5 L818.9,486.4 L820.6,485.3 L822.3,484.3 L824.0,483.2 L825.7,482.1 L827.4,481.1 L829.1,480.1 L830.9,479.0 L832.6,478.0 L834.3,477.0 L836.1,476.0 L837.8,475.1 L839.6,474.1 L841.4,473.2 L843.1,472.2 L844.9,471.3 L846.7,470.4 L848.5,469.5 L850.3,468.6 L852.2,467.8 L854.0,466.9 L855.8,466.1 L857.6,465.2 L859.4,464.4 L861.3,463.5 L863.1,462.7 L864.9,461.8 L866.8,461.0 L868.6,460.2 L870.4,459.3 L872.2,458.5 L874.0,457.6 L875.8,456.7 L877.6,455.9 L879.4,455.0 L881.2,454.1 L883.0,453.2 L884.8,452.2 L886.5,451.3 L888.3,450.3 L890.0,449.4 L891.8,448.4 L893.5,447.4 L895.2,446.4 L896.9,445.3 L898.6,444.3 L900.2,443.2 L901.9,442.1 L903.5,441.0 L905.2,439.8 L906.8,438.7 L908.4,437.5 L910.0,436.4 L911.6,435.2 L913.2,434.0 L914.8,432.8 L916.3,431.5 L917.9,430.3 L919.4,429.0 L921.0,427.7 L922.5,426.4 L924.0,425.1 L925.5,423.8 L927.0,422.5 L928.5,421.1 L929.9,419.8 L931.4,418.4 L932.8,417.0 L934.3,415.6 L935.7,414.2 L937.1,412.8 L938.5,411.3 L939.9,409.9 L941.3,408.4 L942.7,407.0 L944.0,405.5 L945.4,404.0 L946.7,402.5 L948.1,401.0 L949.4,399.5 L950.7,398.0 L952.0,396.4 L953.3,394.9 L954.6,393.3 L955.9,391.8 L957.2,390.2 L958.5,388.6 L959.7,387.0 L961.0,385.4 L962.2,383.8 L963.4,382.2 L964.6,380.6 L965.9,379.0 L967.1,377.4 L968.2,375.7 L969.4,374.1 L970.6,372.4 L971.8,370.8 L972.9,369.1 L974.1,367.5 L975.2,365.8 L976.4,364.1 L977.5,362.4 L978.6,360.7 L979.7,359.1 L980.8,357.4 L981.9,355.7 L983.0,354.0 L984.1,352.3 L985.2,350.6 L986.2,348.8 L987.3,347.1 L988.3,345.4 L989.4,343.7 L990.4,342.0 L991.4,340.3 L992.4,338.5 L993.4,336.8 L994.4,335.1 L995.4,333.4 L996.4,331.6 L997.4,329.9 L998.3,328.1 L999.3,326.4 L1000.2,324.6 L1001.1,322.9 L1002.0,321.1 L1002.8,319.3 L1003.7,317.5 L1004.5,315.7 L1005.3,313.9 L1006.1,312.1 L1006.9,310.3 L1007.6,308.5 L1008.4,306.6 L1009.1,304.8 L1009.7,302.9 L1010.4,301.0 L1011.0,299.1 L1011.6,297.2 L1012.2,295.3 L1012.7,293.4 L1013.2,291.4 L1013.7,289.4 L1014.1,287.5 L1014.5,285.5 L1014.9,283.4 L1015.2,281.4 L1015.5,279.4 L1015.8,277.3"/><path stroke="#808000" d="M330.5,665.5 L331.7,663.9 L333.0,662.4 L334.3,660.9 L335.6,659.4 L337.0,658.0 L338.4,656.6 L339.8,655.3 L341.3,654.0 L342.8,652.7 L344.4,651.4 L346.0,650.2 L347.6,649.0 L349.2,647.9 L350.9,646.7 L352.6,645.6 L354.3,644.5 L356.0,643.5 L357.7,642.4 L359.5,641.4 L361.3,640.4 L363.0,639.5 L364.8,638.5 L366.6,637.6 L368.5,636.7 L370.3,635.8 L372.1,634.9 L373.9,634.0 L375.8,633.2 L377.6,632.3 L379.5,631.5 L381.3,630.7 L383.2,629.9 L385.0,629.1 L386.9,628.3 L388.8,627.6 L390.6,626.8 L392.5,626.1 L394.4,625.4 L396.3,624.7 L398.2,624.0 L400.1,623.3 L402.0,622.6 L403.9,622.0 L405.8,621.3 L407.7,620.7 L409.6,620.1 L411.5,619.5 L413.4,618.9 L415.3,618.3 L417.2,617.7 L419.2,617.2 L421.1,616.6 L423.0,616.1 L425.0,615.6 L426.9,615.0 L428.8,614.5 L430.8,614.0 L432.7,613.5 L434.7,613.0 L436.6,612.6 L438.5,612.1 L440.5,611.6 L442.4,611.2 L444.4,610.8 L446.3,610.3 L448.3,609.9 L450.3,609.5 L452.2,609.1 L454.2,608.7 L456.1,608.3 L458.1,607.9 L460.1,607.5 L462.0,607.1 L464.0,606.8 L466.0,606.4 L467.9,606.1 L469.9,605.7 L471.9,605.4 L473.9,605.0 L475.8,604.7 L477.8,604.4 L479.8,604.1 L481.8,603.8 L483.7,603.5 L485.7,603.2 L487.7,602.9 L489.7,602.6 L491.7,602.3 L493.6,602.0 L495.6,601.8 L497.6,601.5 L499.6,601.2 L501.6,601.0 L503.6,600.7 L505.6,600.5 L507.6,600.2 L509.6,600.0 L511.5,599.7 L513.5,599.5 L515.5,599.2 L517.5,599.0 L519.5,598.8 L521.5,598.6 L523.5,598.3 L525.5,598.1 L527.5,597.9 L529.5,597.7 L531.5,597.5 L533.5,597.2 L535.5,597.0 L537.5,596.8 L539.5,596.6 L541.5,596.4 L543.5,596.2 L545.5,596.0 L547.5,595.8 L549.5,595.6 L551.5,595.4 L553.5,595.2 L555.5,595.0 L557.5,594.8 L559.5,594.6 L561.5,594.4 L563.5,594.2 L565.5,594.0 L567.5,593.8 L569.5,593.6 L571.5,593.4 L573.5,593.2 L575.5,592.9 L577.5,592.7 L579.5,592.5 L581.5,592.3 L583.5,592.1 L585.5,591.9 L587.5,591.7 L589.5,591.5 L591.5,591.2 L593.5,591.0 L595.5,590.8 L597.5,590.6 L599.5,590.3 L601.5,590.1 L603.5,589.9 L605.5,589.6 L607.5,589.4 L609.5,589.1 L611.5,588.9 L613.5,588.6 L615.5,588.4 L617.5,588.1 L619.5,587.8 L621.4,587.6 L623.4,587.3 L625.4,587.0 L627.4,586.7 L629.4,586.4 L631.4,586.1 L633.4,585.8 L635.4,585.5 L637.3,585.2 L639.3,584.9 L641.3,584.5 L643.3,584.2 L645.2,583.8 L647.2,583.5 L649.2,583.1 L651.2,582.7 L653.1,582.4 L655.1,582.0 L657.1,581.6 L659.0,581.1 L661.0,580.7 L662.9,580.3 L664.9,579.8 L666.8,579.4 L668.8,578.9 L670.7,578.4 L672.7,577.9 L674.6,577.4 L676.6,576.9 L678.5,576.3 L680.4,575.8 L682.4,575.2 L684.3,574.6 L686.1,573.9 L688.0,573.2 L689.7,572.4 L691.4,571.4 L693.1,570.4 L694.6,569.2 L696.1,567.9 L697.5,566.5 L698.8,565.1 L700.1,563.5 L701.4,562.0 L702.6,560.4 L703.8,558.8 L705.0,557.1 L706.1,555.5 L707.3,553.8 L708.4,552.2 L709.5,550.5 L710.6,548.8 L711.7,547.1 L712.8,545.4 L713.8,543.7 L714.9,542.0 L715.9,540.3 L716.9,538.6 L718.0,536.8 L719.0,535.1 L720.0,533.4 L721.1,531.6 L722.1,529.9 L723.1,528.1 L724.1,526.4 L725.2,524.7 L726.2,523.0 L727.2,521.2 L728.3,519.5 L729.4,517.8 L730.4,516.1 L731.5,514.4 L732.6,512.7 L733.7,511.0 L734.8,509.4 L736.0,507.7 L737.1,506.1 L738.3,504.4 L739.5,502.8 L740.7,501.2 L741.9,499.6 L743.1,498.0 L744.4,496.4 L745.7,494.9 L746.9,493.3 L748.2,491.7 L749.5,490.2 L750.8,488.7 L752.1,487.2 L753.5,485.7 L754.8,484.2 L756.2,482.7 L757.5,481.2 L758.9,479.7 L760.3,478.3 L761.7,476.8 L763.1,475.4 L764.5,473.9 L765.9,472.5 L767.4,471.1 L768.8,469.7 L770.2,468.3 L771.7,466.9 L773.1,465.5 L774.6,464.1 L776.1,462.8 L777.5,461.4 L779.0,460.0 L780.5,458.7 L782.0,457.4 L783.5,456.0 L785.0,454.7 L786.5,453.4 L788.0,452.1 L789.4,450.8 L790.9,449.4 L792.4,448.1 L793.9,446.8 L795.4,445.4 L796.8,444.0 L798.3,442.7 L799.7,441.3 L801.1,439.8 L802.5,438.4 L803.9,436.9 L805.3,435.5 L806.6,434.0 L808.0,432.5 L809.4,431.0 L810.7,429.6 L812.1,428.1 L813.5,426.6 L814.9,425.2 L816.3,423.8 L817.8,422.4 L819.2,421.0 L820.6,419.6 L822.1,418.2 L823.6,416.9 L825.1,415.5 L826.6,414.2 L828.1,412.9 L829.6,411.6 L831.1,410.3 L832.6,409.0 L834.2,407.8 L835.7,406.5 L837.3,405.3 L838.9,404.0 L840.4,402.8 L842.0,401.6 L843.6,400.4 L845.2,399.2 L846.8,398.0 L848.4,396.8 L850.1,395.6 L851.7,394.5 L853.3,393.3 L855.0,392.2 L856.6,391.0 L858.3,389.9 L859.9,388.7 L861.6,387.6 L863.3,386.5 L864.9,385.4 L866.6,384.2 L868.3,383.1 L870.0,382.0 L871.7,380.9 L873.4,379.8 L875.1,378.7 L876.8,377.6 L878.5,376.5 L880.2,375.4 L881.9,374.3 L883.6,373.2 L885.3,372.1 L887.0,371.0 L888.6,369.9 L890.3,368.7 L892.0,367.6 L893.7,366.5 L895.3,365.3 L897.0,364.2 L898.6,363.0 L900.2,361.8 L901.8,360.6 L903.4,359.4 L905.0,358.2 L906.6,356.9 L908.1,355.7 L909.7,354.4 L911.2,353.1 L912.7,351.8 L914.2,350.4 L915.6,349.1 L917.1,347.7 L918.5,346.4 L920.0,345.0 L921.4,343.6 L922.8,342.2 L924.2,340.8 L925.6,339.3 L926.9,337.9 L928.3,336.4 L929.6,335.0 L931.0,333.5 L932.3,332.0 L933.6,330.5 L934.9,329.0 L936.2,327.5 L937.5,325.9 L938.8,324.4 L940.1,322.8 L941.3,321.3 L942.6,319.7 L943.8,318.2 L945.1,316.6 L946.3,315.0 L947.5,313.4 L948.7,311.8 L950.0,310.2 L951.2,308.6 L952.4,307.0 L953.6,305.4 L954.8,303.8 L956.0,302.1 L957.1,300.5 L958.3,298.9 L959.5,297.2 L960.7,295.6 L961.8,294.0 L963.0,292.3 L964.2,290.7 L965.4,289.0 L966.5,287.4 L967.7,285.7 L968.8,284.1 L970.0,282.4 L971.2,280.8 L972.3,279.1 L973.5,277.5 L974.7,275.8 L975.8,274.2 L977.0,272.6 L978.2,270.9 L979.3,269.3 L980.5,267.7 L981.7,266.0 L982.9,264.4 L984.0,262.8 L985.2,261.2 L986.4,259.5 L987.6,257.9 L988.7,256.3 L989.9,254.7 L991.1,253.1 L992.3,251.4 L993.4,249.8 L994.6,248.2 L995.7,246.5 L996.9,244.9 L998.0,243.3 L999.2,241.6 L1000.3,240.0 L1001.4,238.3 L1002.5,236.6 L1003.6,235.0 L1004.7,233.3 L1005.8,231.6 L1006.9,229.9 L1007.9,228.2 L1009.0,226.5 L1010.0,224.7 L1011.0,223.0 L1012.0,221.2 L1013.0,219.5 L1013.9,217.7 L1014.9,215.9 L1015.8,214.1 M330.5,665.5 L332.5,665.8 L334.4,666.2 L336.4,666.5 L338.4,666.9 L340.4,667.2 L342.3,667.5 L344.3,667.8 L346.3,668.1 L348.3,668.4 L350.3,668.7 L352.3,668.9 L354.3,669.2 L356.3,669.5 L358.2,669.7 L360.2,670.0 L362.2,670.2 L364.2,670.4 L366.2,670.6 L368.2,670.8 L370.2,671.0 L372.2,671.2 L374.2,671.4 L376.2,671.6 L378.2,671.8 L380.2,671.9 L382.3,672.1 L384.3,672.2 L386.3,672.3 L388.3,672.4 L390.3,672.6 L392.3,672.7 L394.3,672.7 L396.3,672.8 L398.3,672.9 L400.3,673.0 L402.3,673.0 L404.3,673.1 L406.3,673.1 L408.3,673.1 L410.3,673.1 L412.4,673.1 L414.4,673.1 L416.4,673.1 L418.4,673.1 L420.4,673.0 L422.4,673.0 L424.4,672.9 L426.4,672.8 L428.4,672.8 L430.4,672.7 L432.4,672.6 L434.4,672.4 L436.4,672.3 L438.4,672.2 L440.4,672.0 L442.4,671.9 L444.4,671.7 L446.3,671.5 L448.3,671.3 L450.3,671.1 L452.3,670.9 L454.3,670.7 L456.3,670.4 L458.2,670.2 L460.2,669.9 L462.2,669.6 L464.2,669.4 L466.2,669.1 L468.1,668.8 L470.1,668.5 L472.1,668.2 L474.0,667.8 L476.0,667.5 L478.0,667.2 L480.0,666.8 L481.9,666.5 L483.9,666.1 L485.9,665.8 L487.8,665.4 L489.8,665.1 L491.8,664.7 L493.7,664.3 L495.7,664.0 L497.7,663.6 L499.6,663.2 L501.6,662.9 L503.6,662.5 L505.6,662.1 L507.5,661.7 L509.5,661.4 L511.5,661.0 L513.5,660.6 L515.4,660.3 L517.4,659.9 L519.4,659.5 L521.4,659.2 L523.3,658.8 L525.3,658.5 L527.3,658.1 L529.3,657.8 L531.3,657.4 L533.3,657.1 L535.3,656.8 L537.3,656.5 L539.2,656.2 L541.2,655.8 L543.2,655.6 L545.2,655.3 L547.2,655.0 L549.3,654.7 L551.3,654.4 L553.3,654.2 L555.3,653.9 L557.3,653.6 L559.3,653.4 L561.3,653.1 L563.3,652.8 L565.3,652.6 L567.3,652.3 L569.3,652.0 L571.3,651.7 L573.3,651.5 L575.3,651.2 L577.3,650.9 L579.3,650.6 L581.3,650.3 L583.3,650.0 L585.3,649.6 L587.2,649.3 L589.2,649.0 L591.2,648.6 L593.2,648.2 L595.1,647.9 L597.1,647.5 L599.1,647.1 L601.0,646.7 L603.0,646.2 L604.9,645.8 L606.8,645.3 L608.8,644.8 L610.7,644.3 L612.6,643.8 L614.5,643.2 L616.4,642.7 L618.3,642.1 L620.2,641.5 L622.1,640.8 L624.0,640.2 L625.8,639.5 L627.7,638.8 L629.5,638.0 L631.4,637.3 L633.2,636.5 L635.0,635.7 L636.9,634.9 L638.7,634.1 L640.5,633.2 L642.3,632.4 L644.0,631.5 L645.8,630.5 L647.6,629.6 L649.3,628.7 L651.1,627.7 L652.8,626.7 L654.5,625.7 L656.3,624.7 L658.0,623.6 L659.7,622.5 L661.4,621.5 L663.0,620.4 L664.7,619.2 L666.4,618.1 L668.0,617.0 L669.6,615.8 L671.3,614.6 L672.9,613.4 L674.5,612.2 L676.1,611.0 L677.7,609.7 L679.2,608.5 L680.8,607.2 L682.3,605.9 L683.9,604.6 L685.4,603.3 L686.9,602.0 L688.4,600.6 L689.9,599.3 L691.4,597.9 L692.9,596.5 L694.3,595.2 L695.8,593.8 L697.2,592.3 L698.6,590.9 L700.0,589.5 L701.4,588.0 L702.8,586.6 L704.1,585.1 L705.5,583.6 L706.9,582.2 L708.2,580.7 L709.5,579.2 L710.8,577.7 L712.2,576.1 L713.5,574.6 L714.8,573.1 L716.0,571.6 L717.3,570.0 L718.6,568.5 L719.9,566.9 L721.2,565.4 L722.4,563.8 L723.7,562.3 L725.0,560.7 L726.2,559.2 L727.5,557.6 L728.8,556.1 L730.0,554.5 L731.3,552.9 L732.5,551.4 L733.8,549.8 L735.1,548.3 L736.3,546.7 L737.6,545.1 L738.9,543.6 L740.2,542.1 L741.5,540.5 L742.8,539.0 L744.1,537.4 L745.4,535.9 L746.7,534.4 L748.0,532.9 L749.3,531.4 L750.6,529.8 L752.0,528.3 L753.3,526.9 L754.7,525.4 L756.0,523.9 L757.4,522.4 L758.7,520.9 L760.1,519.5 L761.5,518.0 L762.9,516.6 L764.3,515.1 L765.7,513.7 L767.1,512.3 L768.5,510.9 L769.9,509.5 L771.4,508.1 L772.8,506.7 L774.3,505.3 L775.7,504.0 L777.2,502.6 L778.7,501.3 L780.2,500.0 L781.7,498.6 L783.2,497.3 L784.7,496.0 L786.2,494.8 L787.8,493.5 L789.3,492.2 L790.9,491.0 L792.4,489.7 L794.0,488.5 L795.6,487.3 L797.2,486.1 L798.8,484.8 L800.4,483.7 L802.0,482.5 L803.6,481.3 L805.2,480.1 L806.8,479.0 L808.5,477.8 L810.1,476.7 L811.8,475.6 L813.4,474.4 L815.1,473.3 L816.8,472.2 L818.5,471.1 L820.1,470.0 L821.8,469.0 L823.5,467.9 L825.2,466.8 L826.9,465.8 L828.6,464.7 L830.4,463.7 L832.1,462.7 L833.8,461.6 L835.6,460.6 L837.3,459.6 L839.0,458.6 L840.8,457.6 L842.5,456.6 L844.3,455.7 L846.1,454.7 L847.8,453.7 L849.6,452.7 L851.3,451.8 L853.1,450.8 L854.9,449.8 L856.6,448.8 L858.4,447.8 L860.1,446.9 L861.9,445.9 L863.6,444.9 L865.4,443.9 L867.1,442.9 L868.8,441.8 L870.5,440.8 L872.2,439.8 L873.9,438.7 L875.6,437.6 L877.3,436.6 L879.0,435.5 L880.6,434.3 L882.3,433.2 L883.9,432.1 L885.5,430.9 L887.1,429.7 L888.7,428.6 L890.3,427.4 L891.9,426.2 L893.5,424.9 L895.0,423.7 L896.6,422.4 L898.1,421.2 L899.7,419.9 L901.2,418.6 L902.7,417.3 L904.2,416.0 L905.7,414.7 L907.2,413.3 L908.6,412.0 L910.1,410.6 L911.5,409.3 L913.0,407.9 L914.4,406.5 L915.8,405.1 L917.3,403.7 L918.7,402.3 L920.1,400.8 L921.4,399.4 L922.8,397.9 L924.2,396.5 L925.5,395.0 L926.9,393.5 L928.2,392.0 L929.6,390.5 L930.9,389.0 L932.2,387.5 L933.5,386.0 L934.8,384.5 L936.1,382.9 L937.4,381.4 L938.6,379.8 L939.9,378.3 L941.2,376.7 L942.4,375.1 L943.6,373.5 L944.9,372.0 L946.1,370.4 L947.3,368.8 L948.5,367.1 L949.7,365.5 L950.9,363.9 L952.1,362.3 L953.3,360.6 L954.4,359.0 L955.6,357.4 L956.7,355.7 L957.9,354.0 L959.0,352.4 L960.1,350.7 L961.2,349.0 L962.3,347.3 L963.4,345.7 L964.5,344.0 L965.6,342.3 L966.6,340.6 L967.7,338.8 L968.7,337.1 L969.8,335.4 L970.8,333.7 L971.8,331.9 L972.8,330.2 L973.8,328.5 L974.8,326.7 L975.8,325.0 L976.8,323.2 L977.7,321.4 L978.7,319.7 L979.6,317.9 L980.6,316.1 L981.5,314.3 L982.4,312.5 L983.3,310.7 L984.2,308.9 L985.0,307.1 L985.9,305.3 L986.8,303.5 L987.6,301.7 L988.4,299.9 L989.3,298.0 L990.1,296.2 L990.9,294.4 L991.7,292.5 L992.4,290.7 L993.2,288.8 L994.0,287.0 L994.7,285.1 L995.4,283.2 L996.2,281.4 L996.9,279.5 L997.6,277.6 L998.2,275.8 L998.9,273.9 L999.6,272.0 L1000.2,270.1 L1000.9,268.2 L1001.5,266.3 L1002.1,264.4 L1002.7,262.5 L1003.3,260.6 L1003.9,258.7 L1004.5,256.8 L1005.0,254.8 L1005.6,252.9 L1006.2,251.0 L1006.7,249.1 L1007.2,247.1 L1007.8,245.2 L1008.3,243.3 L1008.8,241.3 L1009.3,239.4 L1009.9,237.5 L1010.4,235.5 L1010.9,233.6 L1011.4,231.6 L1011.9,229.7 L1012.4,227.7 L1012.9,225.8 L1013.3,223.9 L1013.8,221.9 L1014.3,220.0 L1014.8,218.0 L1015.3,216.1 L1015.8,214.1"/><path stroke="#000080" d="M330.5,688.0 L331.3,686.1 L332.1,684.2 L333.0,682.4 L334.0,680.7 L335.0,679.0 L336.1,677.3 L337.2,675.7 L338.4,674.1 L339.6,672.6 L340.9,671.1 L342.2,669.6 L343.6,668.2 L345.0,666.8 L346.5,665.5 L348.0,664.1 L349.5,662.8 L351.0,661.6 L352.6,660.3 L354.2,659.1 L355.8,657.9 L357.5,656.8 L359.1,655.6 L360.8,654.5 L362.5,653.4 L364.2,652.3 L365.9,651.2 L367.7,650.1 L369.4,649.1 L371.1,648.0 L372.9,647.0 L374.6,645.9 L376.4,644.9 L378.1,643.9 L379.9,642.9 L381.6,641.9 L383.4,640.9 L385.1,639.9 L386.9,638.9 L388.7,638.0 L390.5,637.0 L392.2,636.1 L394.0,635.2 L395.8,634.3 L397.6,633.3 L399.4,632.5 L401.2,631.6 L403.0,630.7 L404.8,629.8 L406.6,629.0 L408.4,628.2 L410.3,627.3 L412.1,626.5 L413.9,625.7 L415.8,625.0 L417.6,624.2 L419.5,623.4 L421.3,622.7 L423.2,622.0 L425.1,621.2 L426.9,620.5 L428.8,619.9 L430.7,619.2 L432.6,618.5 L434.5,617.9 L436.4,617.2 L438.3,616.6 L440.2,616.0 L442.1,615.4 L444.0,614.8 L445.9,614.2 L447.8,613.6 L449.8,613.1 L451.7,612.5 L453.6,612.0 L455.6,611.4 L457.5,610.9 L459.5,610.4 L461.4,609.9 L463.4,609.4 L465.3,608.9 L467.3,608.4 L469.2,607.9 L471.2,607.5 L473.2,607.0 L475.1,606.5 L477.1,606.1 L479.0,605.6 L481.0,605.2 L483.0,604.8 L485.0,604.3 L486.9,603.9 L488.9,603.5 L490.9,603.1 L492.9,602.7 L494.8,602.3 L496.8,601.9 L498.8,601.5 L500.8,601.1 L502.7,600.7 L504.7,600.3 L506.7,599.9 L508.7,599.6 L510.7,599.2 L512.6,598.8 L514.6,598.4 L516.6,598.1 L518.6,597.7 L520.5,597.3 L522.5,596.9 L524.5,596.6 L526.4,596.2 L528.4,595.8 L530.4,595.5 L532.3,595.1 L534.3,594.7 L536.3,594.3 L538.2,594.0 L540.2,593.6 L542.1,593.2 L544.1,592.8 L546.0,592.4 L548.0,592.1 L549.9,591.7 L551.9,591.3 L553.8,590.9 L555.7,590.5 L557.7,590.1 L559.6,589.7 L561.6,589.4 L563.5,589.0 L565.4,588.6 L567.4,588.2 L569.3,587.9 L571.3,587.5 L573.2,587.1 L575.1,586.7 L577.1,586.4 L579.0,586.0 L581.0,585.7 L582.9,585.3 L584.9,585.0 L586.9,584.6 L588.8,584.3 L590.8,583.9 L592.8,583.6 L594.7,583.3 L596.7,583.0 L598.7,582.7 L600.7,582.4 L602.7,582.1 L604.7,581.8 L606.7,581.5 L608.7,581.2 L610.7,581.0 L612.7,580.7 L614.7,580.5 L616.8,580.2 L618.8,580.0 L620.8,579.8 L622.9,579.6 L624.9,579.4 L627.0,579.2 L629.1,579.0 L631.1,578.8 L633.2,578.6 L635.3,578.4 L637.3,578.2 L639.4,578.0 L641.4,577.8 L643.5,577.5 L645.5,577.3 L647.6,577.0 L649.6,576.7 L651.6,576.4 L653.6,576.1 L655.6,575.8 L657.6,575.4 L659.6,575.0 L661.6,574.6 L663.5,574.1 L665.4,573.6 L667.3,573.1 L669.2,572.5 L671.1,571.9 L672.9,571.2 L674.7,570.5 L676.5,569.8 L678.3,569.0 L680.1,568.1 L681.8,567.2 L683.5,566.3 L685.1,565.2 L686.7,564.2 L688.3,563.1 L689.9,561.9 L691.4,560.7 L692.9,559.5 L694.4,558.2 L695.8,556.8 L697.1,555.4 L698.5,554.0 L699.7,552.5 L701.0,551.0 L702.2,549.4 L703.4,547.8 L704.5,546.2 L705.6,544.5 L706.7,542.8 L707.7,541.1 L708.8,539.3 L709.8,537.6 L710.8,535.8 L711.8,534.0 L712.8,532.3 L713.8,530.5 L714.8,528.7 L715.7,526.9 L716.7,525.1 L717.7,523.3 L718.7,521.5 L719.7,519.8 L720.8,518.0 L721.8,516.3 L722.9,514.6 L723.9,512.9 L725.0,511.2 L726.1,509.6 L727.2,507.9 L728.3,506.2 L729.5,504.6 L730.6,502.9 L731.8,501.3 L732.9,499.7 L734.1,498.1 L735.2,496.4 L736.4,494.8 L737.6,493.2 L738.8,491.6 L740.0,490.0 L741.2,488.4 L742.4,486.8 L743.6,485.2 L744.8,483.7 L746.0,482.1 L747.3,480.5 L748.5,478.9 L749.8,477.4 L751.0,475.8 L752.3,474.3 L753.6,472.7 L754.8,471.2 L756.1,469.6 L757.4,468.1 L758.7,466.6 L760.0,465.0 L761.3,463.5 L762.6,462.0 L763.9,460.5 L765.2,459.0 L766.5,457.4 L767.8,455.9 L769.2,454.4 L770.5,452.9 L771.8,451.4 L773.2,449.9 L774.5,448.4 L775.9,447.0 L777.2,445.5 L778.6,444.0 L780.0,442.5 L781.3,441.0 L782.7,439.6 L784.1,438.1 L785.4,436.6 L786.8,435.2 L788.2,433.7 L789.6,432.3 L791.0,430.8 L792.3,429.4 L793.7,427.9 L795.1,426.5 L796.5,425.0 L797.9,423.6 L799.3,422.1 L800.7,420.7 L802.1,419.3 L803.5,417.8 L804.9,416.4 L806.4,415.0 L807.8,413.5 L809.2,412.1 L810.6,410.7 L812.0,409.3 L813.4,407.8 L814.8,406.4 L816.3,405.0 L817.7,403.6 L819.1,402.2 L820.5,400.8 L821.9,399.3 L823.4,397.9 L824.8,396.5 L826.2,395.1 L827.7,393.7 L829.1,392.3 L830.5,390.9 L832.0,389.6 L833.4,388.2 L834.8,386.8 L836.3,385.4 L837.7,384.0 L839.2,382.6 L840.6,381.3 L842.1,379.9 L843.6,378.5 L845.0,377.2 L846.5,375.8 L848.0,374.4 L849.4,373.1 L850.9,371.7 L852.4,370.4 L853.9,369.0 L855.4,367.7 L856.9,366.4 L858.4,365.0 L859.9,363.7 L861.4,362.4 L862.9,361.1 L864.4,359.8 L865.9,358.4 L867.5,357.1 L869.0,355.8 L870.5,354.5 L872.1,353.2 L873.6,352.0 L875.2,350.7 L876.7,349.4 L878.3,348.1 L879.9,346.8 L881.4,345.6 L883.0,344.3 L884.6,343.1 L886.2,341.8 L887.7,340.5 L889.3,339.3 L890.9,338.0 L892.5,336.7 L894.0,335.5 L895.6,334.2 L897.2,332.9 L898.7,331.6 L900.3,330.3 L901.8,329.0 L903.4,327.7 L904.9,326.4 L906.4,325.1 L907.9,323.8 L909.4,322.5 L910.9,321.1 L912.4,319.8 L913.8,318.4 L915.3,317.0 L916.7,315.6 L918.2,314.2 L919.6,312.8 L921.0,311.4 L922.4,310.0 L923.8,308.5 L925.1,307.1 L926.5,305.6 L927.8,304.1 L929.1,302.6 L930.5,301.2 L931.8,299.7 L933.1,298.1 L934.4,296.6 L935.7,295.1 L936.9,293.5 L938.2,292.0 L939.4,290.4 L940.7,288.9 L941.9,287.3 L943.1,285.7 L944.3,284.1 L945.5,282.5 L946.7,280.9 L947.9,279.3 L949.1,277.7 L950.3,276.1 L951.4,274.5 L952.6,272.8 L953.7,271.2 L954.8,269.5 L956.0,267.9 L957.1,266.2 L958.2,264.5 L959.3,262.9 L960.4,261.2 L961.5,259.5 L962.6,257.8 L963.7,256.1 L964.7,254.4 L965.8,252.7 L966.9,251.0 L967.9,249.3 L969.0,247.5 L970.0,245.8 L971.1,244.1 L972.1,242.4 L973.1,240.6 L974.1,238.9 L975.2,237.1 L976.2,235.4 L977.2,233.7 L978.2,231.9 L979.2,230.1 L980.2,228.4 L981.2,226.6 L982.2,224.9 L983.2,223.1 L984.1,221.3 L985.1,219.6 L986.1,217.8 L987.1,216.0 L988.0,214.3 L989.0,212.5 L990.0,210.7 L990.9,209.0 L991.9,207.2 L992.9,205.4 L993.8,203.6 L994.8,201.9 L995.7,200.1 L996.7,198.3 L997.7,196.6 L998.6,194.8 L999.6,193.0 L1000.5,191.2 L1001.5,189.5 L1002.4,187.7 L1003.4,185.9 L1004.3,184.2 L1005.3,182.4 L1006.2,180.7 L1007.2,178.9 L1008.1,177.1 L1009.1,175.4 L1010.0,173.6 L1011.0,171.9 L1012.0,170.1 L1012.9,168.4 L1013.9,166.7 L1014.8,164.9 L1015.8,163.2 M330.5,688.0 L332.5,688.3 L334.4,688.5 L336.4,688.8 L338.4,689.0 L340.4,689.3 L342.4,689.5 L344.3,689.7 L346.3,689.9 L348.3,690.1 L350.3,690.3 L352.3,690.5 L354.3,690.7 L356.3,690.8 L358.3,691.0 L360.4,691.1 L362.4,691.3 L364.4,691.4 L366.4,691.5 L368.4,691.6 L370.4,691.7 L372.4,691.7 L374.5,691.8 L376.5,691.9 L378.5,691.9 L380.5,691.9 L382.5,691.9 L384.5,691.9 L386.5,691.9 L388.6,691.9 L390.6,691.9 L392.6,691.8 L394.6,691.7 L396.6,691.6 L398.6,691.5 L400.6,691.4 L402.6,691.3 L404.6,691.2 L406.6,691.0 L408.6,690.8 L410.6,690.6 L412.5,690.4 L414.5,690.2 L416.5,690.0 L418.5,689.8 L420.5,689.5 L422.5,689.2 L424.4,689.0 L426.4,688.7 L428.4,688.4 L430.4,688.1 L432.3,687.8 L434.3,687.4 L436.3,687.1 L438.2,686.8 L440.2,686.4 L442.2,686.1 L444.1,685.7 L446.1,685.3 L448.1,685.0 L450.0,684.6 L452.0,684.2 L453.9,683.8 L455.9,683.4 L457.9,683.0 L459.8,682.6 L461.8,682.2 L463.7,681.8 L465.7,681.3 L467.7,680.9 L469.6,680.5 L471.6,680.1 L473.5,679.7 L475.5,679.2 L477.4,678.8 L479.4,678.4 L481.4,677.9 L483.3,677.5 L485.3,677.1 L487.2,676.7 L489.2,676.2 L491.2,675.8 L493.1,675.4 L495.1,675.0 L497.1,674.6 L499.0,674.2 L501.0,673.8 L503.0,673.4 L504.9,673.0 L506.9,672.6 L508.9,672.2 L510.9,671.8 L512.8,671.4 L514.8,671.1 L516.8,670.7 L518.8,670.4 L520.8,670.0 L522.7,669.7 L524.7,669.4 L526.7,669.1 L528.7,668.7 L530.7,668.4 L532.7,668.1 L534.7,667.8 L536.7,667.6 L538.7,667.3 L540.7,667.0 L542.7,666.7 L544.7,666.4 L546.7,666.2 L548.6,665.9 L550.6,665.6 L552.6,665.3 L554.6,665.1 L556.6,664.8 L558.6,664.5 L560.6,664.2 L562.6,663.9 L564.6,663.7 L566.6,663.4 L568.6,663.1 L570.5,662.8 L572.5,662.4 L574.5,662.1 L576.5,661.8 L578.5,661.5 L580.4,661.1 L582.4,660.8 L584.4,660.4 L586.3,660.0 L588.3,659.7 L590.2,659.3 L592.2,658.9 L594.1,658.4 L596.1,658.0 L598.0,657.5 L599.9,657.1 L601.9,656.6 L603.8,656.1 L605.7,655.6 L607.6,655.1 L609.5,654.5 L611.4,653.9 L613.3,653.3 L615.2,652.7 L617.1,652.1 L619.0,651.5 L620.8,650.8 L622.7,650.1 L624.5,649.4 L626.4,648.6 L628.2,647.9 L630.1,647.1 L631.9,646.3 L633.7,645.4 L635.5,644.5 L637.2,643.6 L639.0,642.7 L640.7,641.8 L642.5,640.8 L644.2,639.7 L645.9,638.7 L647.5,637.6 L649.2,636.5 L650.8,635.3 L652.4,634.2 L654.0,633.0 L655.6,631.7 L657.2,630.5 L658.7,629.2 L660.3,627.9 L661.8,626.6 L663.3,625.2 L664.8,623.9 L666.3,622.5 L667.7,621.1 L669.2,619.7 L670.6,618.3 L672.0,616.8 L673.5,615.4 L674.9,613.9 L676.2,612.4 L677.6,611.0 L679.0,609.5 L680.4,608.0 L681.7,606.5 L683.0,605.0 L684.4,603.5 L685.7,602.0 L687.0,600.5 L688.3,599.0 L689.6,597.4 L690.9,595.9 L692.2,594.4 L693.5,592.8 L694.8,591.3 L696.0,589.8 L697.3,588.2 L698.5,586.7 L699.8,585.1 L701.0,583.5 L702.2,582.0 L703.5,580.4 L704.7,578.8 L705.9,577.3 L707.1,575.7 L708.3,574.1 L709.5,572.5 L710.7,570.9 L711.9,569.3 L713.1,567.7 L714.3,566.1 L715.5,564.5 L716.7,562.9 L717.9,561.3 L719.0,559.7 L720.2,558.0 L721.4,556.4 L722.6,554.8 L723.7,553.1 L724.9,551.5 L726.1,549.9 L727.3,548.3 L728.4,546.6 L729.6,545.0 L730.8,543.4 L732.0,541.8 L733.2,540.2 L734.4,538.6 L735.7,537.0 L736.9,535.4 L738.2,533.9 L739.4,532.3 L740.7,530.8 L742.0,529.3 L743.3,527.7 L744.6,526.2 L745.9,524.8 L747.3,523.3 L748.7,521.8 L750.1,520.4 L751.5,519.0 L752.9,517.6 L754.4,516.3 L755.8,514.9 L757.3,513.6 L758.8,512.2 L760.3,510.9 L761.9,509.6 L763.4,508.3 L764.9,507.0 L766.5,505.8 L768.0,504.5 L769.6,503.2 L771.1,501.9 L772.7,500.6 L774.2,499.4 L775.8,498.1 L777.3,496.8 L778.9,495.5 L780.4,494.2 L781.9,492.9 L783.4,491.6 L784.9,490.2 L786.4,488.9 L787.9,487.6 L789.4,486.2 L790.9,484.9 L792.4,483.5 L793.9,482.2 L795.3,480.9 L796.8,479.5 L798.3,478.2 L799.8,476.9 L801.3,475.6 L802.9,474.3 L804.4,473.0 L805.9,471.7 L807.5,470.5 L809.0,469.2 L810.6,468.0 L812.1,466.8 L813.7,465.6 L815.3,464.3 L816.9,463.2 L818.5,462.0 L820.1,460.8 L821.7,459.6 L823.3,458.5 L825.0,457.3 L826.6,456.2 L828.2,455.0 L829.9,453.9 L831.5,452.8 L833.2,451.7 L834.8,450.6 L836.5,449.5 L838.2,448.4 L839.8,447.3 L841.5,446.2 L843.2,445.1 L844.9,444.0 L846.6,443.0 L848.3,441.9 L850.0,440.8 L851.7,439.8 L853.4,438.7 L855.1,437.6 L856.8,436.6 L858.5,435.5 L860.2,434.5 L861.9,433.4 L863.7,432.3 L865.4,431.3 L867.1,430.2 L868.8,429.2 L870.5,428.1 L872.3,427.0 L874.0,426.0 L875.7,424.9 L877.4,423.8 L879.1,422.7 L880.8,421.6 L882.5,420.5 L884.2,419.4 L885.8,418.3 L887.5,417.2 L889.2,416.0 L890.8,414.9 L892.5,413.7 L894.1,412.5 L895.7,411.3 L897.3,410.1 L898.9,408.9 L900.4,407.7 L902.0,406.4 L903.5,405.1 L905.0,403.8 L906.5,402.5 L908.0,401.2 L909.4,399.8 L910.9,398.4 L912.3,397.0 L913.7,395.6 L915.0,394.2 L916.4,392.7 L917.7,391.2 L919.0,389.7 L920.3,388.2 L921.6,386.7 L922.9,385.1 L924.1,383.6 L925.4,382.0 L926.6,380.4 L927.8,378.8 L929.0,377.2 L930.1,375.6 L931.3,373.9 L932.4,372.3 L933.6,370.6 L934.7,369.0 L935.8,367.3 L936.9,365.6 L938.0,363.9 L939.1,362.3 L940.2,360.6 L941.3,358.9 L942.4,357.2 L943.4,355.5 L944.5,353.8 L945.5,352.1 L946.5,350.3 L947.6,348.6 L948.6,346.9 L949.6,345.2 L950.6,343.4 L951.6,341.7 L952.6,339.9 L953.6,338.2 L954.5,336.4 L955.5,334.7 L956.4,332.9 L957.4,331.2 L958.3,329.4 L959.3,327.6 L960.2,325.8 L961.1,324.1 L962.0,322.3 L962.9,320.5 L963.8,318.7 L964.7,316.9 L965.6,315.1 L966.4,313.3 L967.3,311.5 L968.2,309.7 L969.0,307.9 L969.9,306.1 L970.7,304.2 L971.5,302.4 L972.3,300.6 L973.2,298.8 L974.0,296.9 L974.8,295.1 L975.6,293.2 L976.4,291.4 L977.1,289.6 L977.9,287.7 L978.7,285.9 L979.4,284.0 L980.2,282.1 L980.9,280.3 L981.7,278.4 L982.4,276.5 L983.1,274.7 L983.9,272.8 L984.6,270.9 L985.3,269.1 L986.0,267.2 L986.7,265.3 L987.4,263.4 L988.1,261.5 L988.7,259.6 L989.4,257.7 L990.1,255.9 L990.7,254.0 L991.4,252.1 L992.0,250.2 L992.7,248.3 L993.3,246.4 L994.0,244.5 L994.6,242.5 L995.2,240.6 L995.8,238.7 L996.4,236.8 L997.0,234.9 L997.6,233.0 L998.2,231.1 L998.8,229.1 L999.4,227.2 L1000.0,225.3 L1000.5,223.4 L1001.1,221.4 L1001.7,219.5 L1002.2,217.6 L1002.8,215.7 L1003.3,213.7 L1003.8,211.8 L1004.4,209.9 L1004.9,207.9 L1005.4,206.0 L1006.0,204.0 L1006.5,202.1 L1007.0,200.2 L1007.5,198.2 L1008.0,196.3 L1008.5,194.3 L1009.0,192.4 L1009.5,190.5 L1009.9,188.5 L1010.4,186.6 L1010.9,184.6 L1011.4,182.7 L1011.8,180.7 L1012.3,178.8 L1012.7,176.8 L1013.2,174.9 L1013.6,172.9 L1014.1,171.0 L1014.5,169.0 L1014.9,167.1 L1015.4,165.1 L1015.8,163.2"/></g>
<g stroke-width="5" stroke-linecap="round"><line x1="346.3" y1="249.4" x2="421.6" y2="249.4" stroke="#000000"/><line x1="346.3" y1="299.1" x2="421.6" y2="299.1" stroke="#ff0000"/><line x1="346.3" y1="348.8" x2="421.6" y2="348.8" stroke="#0000ff"/><line x1="346.3" y1="398.5" x2="421.6" y2="398.5" stroke="#008080"/><line x1="346.3" y1="448.2" x2="421.6" y2="448.2" stroke="#ff00ff"/><line x1="346.3" y1="497.9" x2="421.6" y2="497.9" stroke="#808000"/><line x1="346.3" y1="547.6" x2="421.6" y2="547.6" stroke="#000080"/></g>
<g fill="#000"><rect x="1461.7" y="661.9" width="15" height="14.4"/><rect x="1557.0" y="576.0" width="15" height="14.4"/><rect x="1622.5" y="518.1" width="15" height="14.4"/><rect x="1675.5" y="445.6" width="15" height="14.4"/><rect x="1742.2" y="365.4" width="15" height="14.4"/><rect x="1912.2" y="231.6" width="15" height="14.4"/><rect x="2042.9" y="132.0" width="15" height="14.4"/></g>
<line x1="1469.2" y1="664" x2="2050.5" y2="121.5" stroke="#ff0000" stroke-width="5" stroke-linecap="round"/>
<g stroke="#000" stroke-width="4.6" stroke-linecap="round" fill="none"><line x1="320.3" y1="1051.1" x2="365.1" y2="1231.9"/><line x1="373.0" y1="1252.3" x2="471.3" y2="1435.8"/><line x1="482.2" y1="1454.9" x2="508.1" y2="1497.1"/><line x1="519.9" y1="1515.7" x2="534.5" y2="1537.7"/><line x1="551.0" y1="1550.5" x2="645.3" y2="1583.7"/><line x1="666.6" y1="1588.5" x2="1010.7" y2="1627.3"/></g>
<g fill="#000"><rect x="310.1" y="1032.9" width="15" height="15"/><rect x="360.3" y="1235.1" width="15" height="15"/><rect x="469.0" y="1438.0" width="15" height="15"/><rect x="506.3" y="1499.0" width="15" height="15"/><rect x="533.1" y="1539.4" width="15" height="15"/><rect x="648.2" y="1579.8" width="15" height="15"/><rect x="1014.1" y="1621.0" width="15" height="15"/></g>
<path d="M1358.0,1029.0 C1358.0,1040.8 1358.1,1071.5 1358.2,1100.0 C1358.3,1128.5 1358.4,1168.0 1358.6,1200.0 C1358.8,1232.0 1359.0,1267.0 1359.3,1292.0 C1359.6,1317.0 1359.7,1333.0 1360.2,1350.0 C1360.7,1367.0 1361.4,1381.7 1362.4,1393.9 C1363.4,1406.1 1364.5,1413.9 1366.1,1423.2 C1367.7,1432.5 1369.3,1441.2 1372.0,1449.5 C1374.7,1457.8 1377.8,1466.1 1382.2,1472.9 C1386.6,1479.7 1391.5,1485.1 1398.3,1490.5 C1405.1,1495.9 1414.2,1501.2 1423.2,1505.1 C1432.2,1509.0 1440.2,1510.7 1452.4,1513.9 C1464.6,1517.1 1481.7,1521.5 1496.3,1524.2 C1510.9,1526.9 1525.5,1528.3 1540.2,1530.0 C1554.9,1531.7 1566.2,1532.9 1584.2,1534.4 C1602.2,1535.9 1630.7,1537.5 1648.5,1538.8 C1666.3,1540.1 1675.3,1541.1 1690.8,1542.2 C1706.3,1543.3 1724.6,1544.5 1741.5,1545.5 C1758.4,1546.5 1775.4,1547.6 1792.3,1548.5 C1809.2,1549.4 1826.1,1550.2 1843.0,1551.1 C1859.9,1552.0 1876.9,1553.2 1893.8,1554.1 C1910.7,1555.0 1927.7,1555.8 1944.6,1556.6 C1961.5,1557.4 1978.4,1558.3 1995.3,1559.2 C2012.2,1560.1 2029.2,1560.9 2046.1,1561.7 C2063.0,1562.5 2081.0,1563.2 2096.9,1563.8 C2112.8,1564.4 2133.9,1565.0 2141.3,1565.3 L2144.5,1567 L2145,1575.2 L2159,1576 L2159.5,1567.6 L2168,1566.8" fill="none" stroke="#0000ff" stroke-width="6.3" stroke-linecap="round" stroke-linejoin="round"/>
<g font-family="'Liberation Serif', serif" font-weight="bold" font-size="92"><text x="284.9" y="179.9" fill="none" stroke="#a6d6f7" stroke-width="7.6" stroke-linejoin="round">A</text><text x="284.9" y="179.9" fill="#000" stroke="#fff" stroke-width="2.6" stroke-linejoin="round" paint-order="stroke">A</text></g>
<g font-family="'Liberation Serif', serif" font-weight="bold" font-size="92"><text x="1387.8" y="156.1" fill="none" stroke="#a6d6f7" stroke-width="7.6" stroke-linejoin="round">B</text><text x="1387.8" y="156.1" fill="#000" stroke="#fff" stroke-width="2.6" stroke-linejoin="round" paint-order="stroke">B</text></g>
<g font-family="'Liberation Serif', serif" font-weight="bold" font-size="93"><text x="240.4" y="1024" fill="none" stroke="#a6d6f7" stroke-width="7.6" stroke-linejoin="round">C</text><text x="240.4" y="1024" fill="#000" stroke="#fff" stroke-width="2.6" stroke-linejoin="round" paint-order="stroke">C</text></g>
<g font-family="'Liberation Serif', serif" font-weight="bold" font-size="92"><text x="1404.5" y="1038.5" fill="none" stroke="#a6d6f7" stroke-width="7.6" stroke-linejoin="round">D</text><text x="1404.5" y="1038.5" fill="#000" stroke="#fff" stroke-width="2.6" stroke-linejoin="round" paint-order="stroke">D</text></g>
<g font-family="'Liberation Serif', serif" fill="#000"><text transform="translate(90.5,712.9) rotate(-90)" font-size="53" font-weight="bold" textLength="362.1" lengthAdjust="spacing">Current density</text><text transform="translate(90.6,337.9) rotate(-90)" font-size="40" font-weight="bold">(</text><text transform="translate(90.5,321.1) rotate(-90)" font-size="53" font-weight="bold" textLength="162.4" lengthAdjust="spacing">mA/cm</text><text transform="translate(71.7,159.0) rotate(-90)" font-size="53" font-weight="bold">2</text><text transform="translate(90.6,132.1) rotate(-90)" font-size="40" font-weight="bold">)</text><text x="381.9" y="883.2" font-size="54" font-weight="bold" textLength="566.3" lengthAdjust="spacing">Voltage (V) vs. Ag/AgCl</text><text transform="translate(1234.0,742.5) rotate(-90)" font-size="53.4" font-weight="bold">Current density</text><text transform="translate(1234.2,365.8) rotate(-90)" font-size="40" font-weight="bold">(</text><text transform="translate(1234.0,349.0) rotate(-90)" font-size="53" font-weight="bold" textLength="162.4" lengthAdjust="spacing">mA/cm</text><text transform="translate(1215.1,186.1) rotate(-90)" font-size="53" font-weight="bold">2</text><text transform="translate(1234.2,158.8) rotate(-90)" font-size="40" font-weight="bold">)</text><text transform="translate(1654.7,900.4) scale(1.200,1)" font-size="36.5" font-weight="normal">υ</text><text x="1676.1" y="878.0" font-size="54" font-weight="bold">1/2</text><text x="1759.9" y="900.8" font-size="48" font-weight="bold">(</text><text x="1774.7" y="900.8" font-size="53" font-weight="bold">V/s</text><text x="1850.7" y="900.8" font-size="48" font-weight="bold">)</text><text x="1863.6" y="878.0" font-size="54" font-weight="bold">1/2</text><text transform="translate(81.5,1635.2) rotate(-90)" font-size="55" font-weight="bold">I</text><text transform="translate(81.5,1598.1) rotate(-90)" font-size="55" font-weight="bold">*</text><text transform="translate(82.8,1558.2) rotate(-90) scale(1.050,1)" font-size="39" font-weight="normal">υ</text><text transform="translate(58.0,1536.3) rotate(-90)" font-size="54" font-weight="bold" textLength="85.1" lengthAdjust="spacing">-1/2</text><text transform="translate(81.9,1437.4) rotate(-90)" font-size="42" font-weight="bold">(</text><text transform="translate(81.5,1421.2) rotate(-90)" font-size="53" font-weight="bold" textLength="163.9" lengthAdjust="spacing">mA/cm</text><text transform="translate(62.1,1255.4) rotate(-90)" font-size="53" font-weight="bold">2</text><text transform="translate(81.9,1227.7) rotate(-90)" font-size="42" font-weight="bold">)</text><text transform="translate(81.9,1201.1) rotate(-90)" font-size="42" font-weight="bold">(</text><text transform="translate(81.0,1185.5) rotate(-90)" font-size="53" font-weight="bold">mV/s</text><text transform="translate(81.9,1067.5) rotate(-90)" font-size="42" font-weight="bold">)</text><text transform="translate(57.8,1053.6) rotate(-90)" font-size="54" font-weight="bold" textLength="85.5" lengthAdjust="spacing">-1/2</text><text transform="translate(504.0,1784.6) scale(1.100,1)" font-size="36.5" font-weight="normal">υ</text><text x="524.8" y="1761.4" font-size="54" font-weight="bold">1/2</text><text x="608.6" y="1784.2" font-size="45" font-weight="bold">(</text><text x="624.1" y="1784.2" font-size="53" font-weight="bold" textLength="119.7" lengthAdjust="spacing">mV/s</text><text x="744.0" y="1784.2" font-size="45" font-weight="bold">)</text><text x="758.0" y="1761.4" font-size="54" font-weight="bold">1/2</text><text transform="translate(1234.2,1624.1) rotate(-90)" font-size="54" font-weight="bold" textLength="369.9" lengthAdjust="spacing">Current density</text><text transform="translate(1234.2,1240.1) rotate(-90)" font-size="67" font-weight="bold">(</text><text transform="translate(1234.2,1215.2) rotate(-90)" font-size="53" font-weight="bold" textLength="163.5" lengthAdjust="spacing">mA/cm</text><text transform="translate(1204.5,1050.1) rotate(-90)" font-size="53" font-weight="bold">2</text><text transform="translate(1234.2,1023.2) rotate(-90)" font-size="67" font-weight="bold">)</text><text x="1711.4" y="1784.5" font-size="54" font-weight="bold">Time (s)</text><text x="431.3" y="260.1" font-size="38" font-weight="bold" textLength="140.2" lengthAdjust="spacing">10 mV/s</text><text x="432.9" y="309.8" font-size="38" font-weight="bold" textLength="138.6" lengthAdjust="spacing">30 mV/s</text><text x="432.8" y="359.5" font-size="38" font-weight="bold" textLength="138.6" lengthAdjust="spacing">50 mV/s</text><text x="432.1" y="409.2" font-size="38" font-weight="bold" textLength="139.3" lengthAdjust="spacing">70 mV/s</text><text x="431.3" y="458.9" font-size="38" font-weight="bold" textLength="160.7" lengthAdjust="spacing">100 mV/s</text><text x="432.7" y="508.6" font-size="38" font-weight="bold" textLength="138.7" lengthAdjust="spacing">20 mV/s</text><text x="432.9" y="558.3" font-size="38" font-weight="bold" textLength="138.6" lengthAdjust="spacing">30 mV/s</text></g>
</svg></body></html>
